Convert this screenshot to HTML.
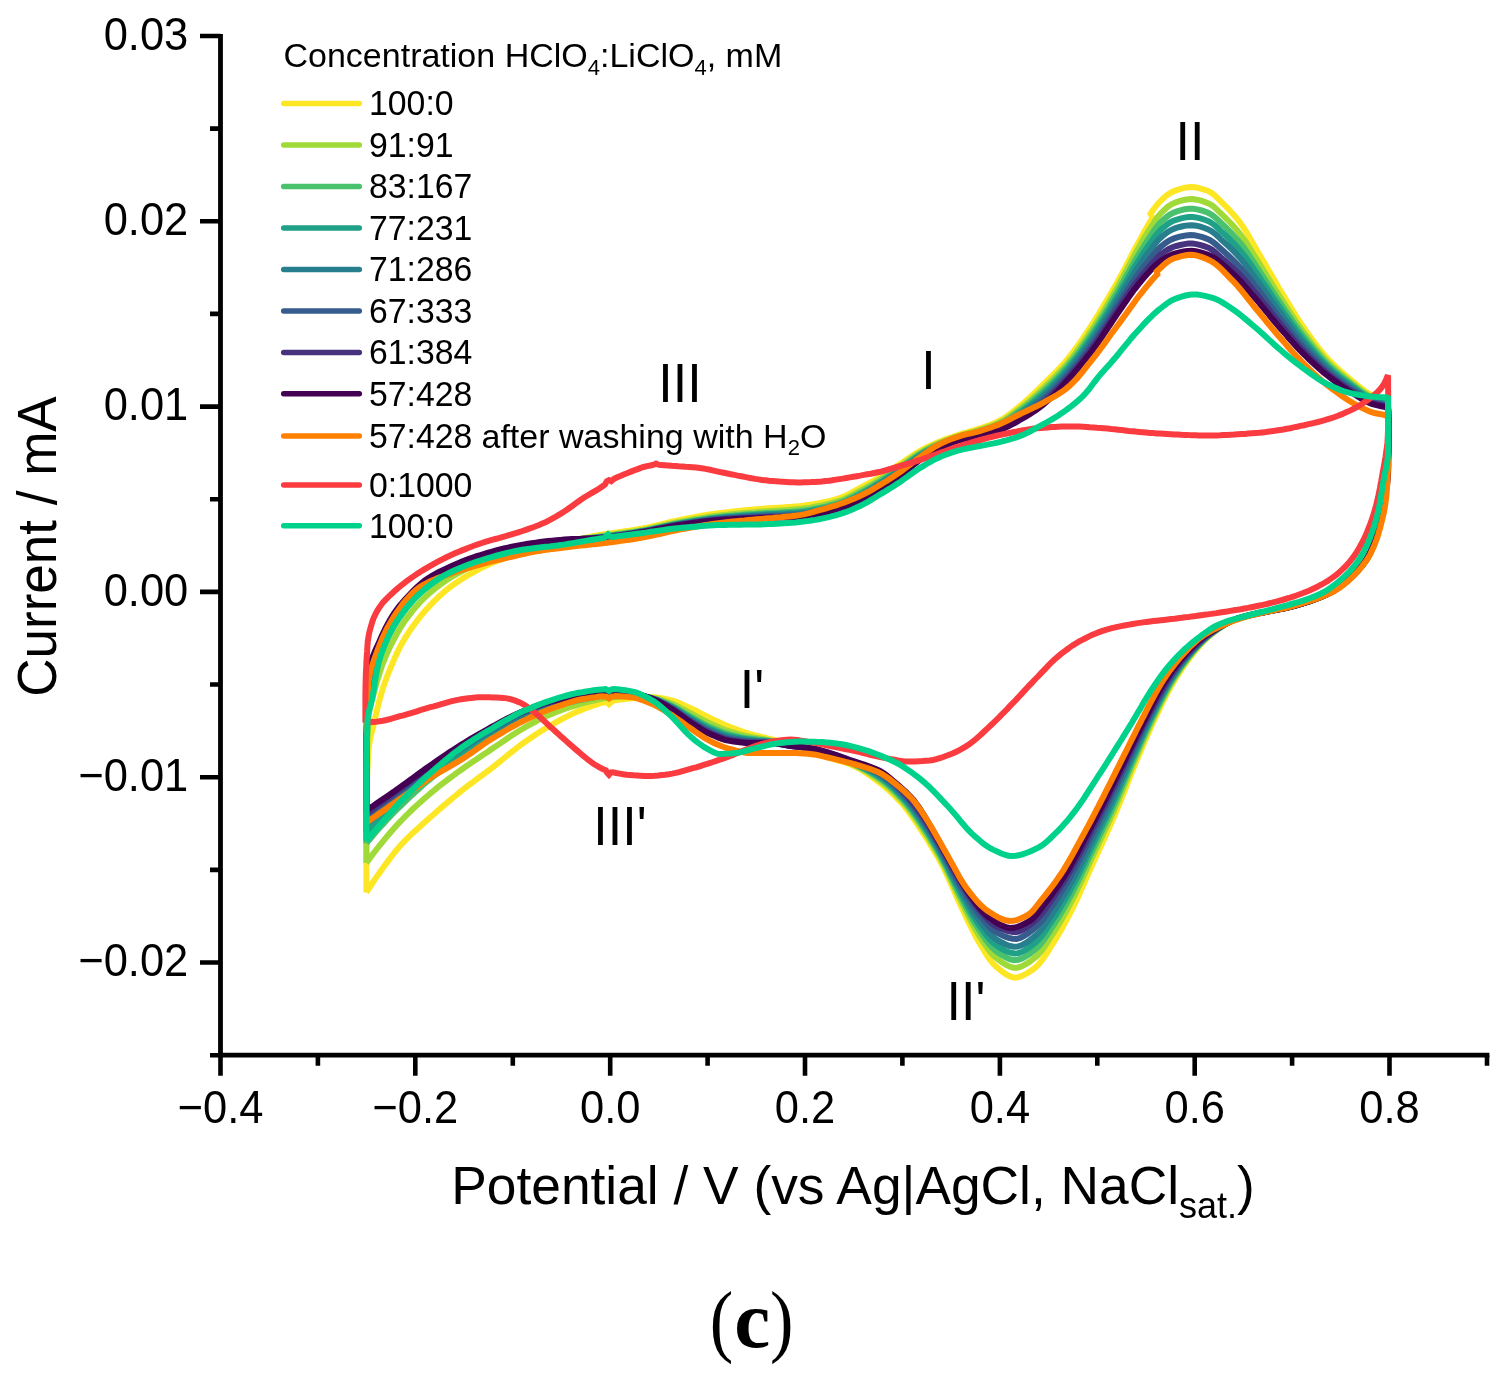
<!DOCTYPE html>
<html lang="en"><head><meta charset="utf-8"><title>Cyclic voltammograms (c)</title>
<style>html,body{margin:0;padding:0;background:#fff}body{width:1500px;height:1380px;overflow:hidden}</style></head>
<body>
<svg width="1500" height="1380" viewBox="0 0 1500 1380" style="display:block">
<rect width="1500" height="1380" fill="#fff"/>
<g fill="none" stroke-width="6.0" stroke-linejoin="miter" stroke-linecap="butt">
<path d="M366.4,892.5 L366.4,888.1 L366.4,883.6 L366.4,879.2 L366.4,874.7 L366.4,870.3 L366.4,865.9 L366.4,861.4 L366.4,857.0 L366.4,852.6 L366.4,848.1 L366.5,843.7 L366.5,839.3 L366.5,834.8 L366.5,830.4 L366.5,825.9 L366.5,821.5 L366.5,817.1 L366.5,812.6 L366.6,808.2 L366.6,803.8 L366.6,799.3 L366.6,794.9 L366.7,790.5 L366.8,786.0 L366.9,781.6 L367.1,777.1 L367.2,772.7 L367.4,768.2 L367.7,763.8 L367.9,759.4 L368.2,755.0 L368.5,750.6 L368.9,746.2 L369.6,741.8 L370.5,737.5 L371.5,733.1 L372.6,728.8 L373.7,724.5 L374.7,720.2 L375.7,715.8 L376.7,711.5 L377.7,707.2 L378.8,702.9 L379.9,698.6 L381.1,694.3 L382.4,690.1 L383.7,685.9 L385.2,681.7 L386.7,677.5 L388.3,673.3 L390.0,669.2 L391.7,665.1 L393.4,661.0 L395.2,657.0 L397.1,652.9 L399.1,648.9 L401.1,645.0 L403.2,641.2 L405.5,637.4 L407.9,633.6 L410.4,629.9 L412.9,626.3 L415.6,622.7 L418.3,619.1 L421.1,615.7 L423.9,612.3 L426.8,609.0 L429.8,605.7 L432.9,602.4 L436.0,599.3 L439.3,596.2 L442.6,593.2 L445.9,590.4 L449.4,587.7 L452.9,585.0 L456.6,582.5 L460.3,580.0 L464.1,577.6 L467.9,575.3 L471.7,573.1 L475.6,571.0 L479.5,568.9 L483.5,566.9 L487.5,565.0 L491.6,563.1 L495.7,561.4 L499.8,559.8 L504.0,558.3 L508.1,557.0 L512.4,555.7 L516.6,554.5 L520.9,553.3 L525.2,552.2 L529.6,551.1 L533.9,550.0 L538.2,548.9 L542.5,547.9 L546.8,546.8 L551.1,545.7 L555.4,544.7 L559.7,543.6 L564.1,542.6 L568.4,541.6 L572.7,540.6 L577.0,539.6 L581.4,538.7 L585.7,537.8 L590.1,536.9 L594.4,536.0 L598.8,535.2 L603.1,534.5 L607.5,533.8 L611.9,533.1 L616.3,532.5 L620.7,531.9 L625.1,531.3 L629.5,530.7 L633.9,530.0 L638.3,529.3 L642.6,528.5 L647.0,527.6 L651.3,526.7 L655.6,525.6 L659.9,524.6 L664.2,523.6 L668.6,522.5 L672.9,521.5 L677.2,520.6 L681.6,519.7 L685.9,518.8 L690.3,518.0 L694.6,517.1 L699.0,516.3 L703.4,515.5 L707.8,514.8 L712.1,514.1 L716.5,513.5 L720.9,512.9 L725.3,512.4 L729.7,511.9 L734.1,511.4 L738.5,510.9 L743.0,510.5 L747.4,510.1 L751.8,509.7 L756.2,509.3 L760.6,508.9 L765.1,508.6 L769.5,508.3 L773.9,508.0 L778.4,507.7 L782.8,507.4 L787.2,507.1 L791.6,506.8 L796.0,506.4 L800.5,506.0 L804.9,505.4 L809.3,504.8 L813.7,504.1 L818.0,503.4 L822.4,502.5 L826.7,501.6 L831.1,500.6 L835.4,499.4 L839.6,498.1 L843.7,496.6 L847.7,494.7 L851.6,492.6 L855.5,490.4 L859.4,488.3 L863.4,486.2 L867.3,484.1 L871.2,482.0 L875.1,479.9 L878.9,477.6 L882.7,475.4 L886.4,473.0 L890.1,470.5 L893.8,468.1 L897.5,465.6 L901.2,463.2 L904.9,460.7 L908.6,458.2 L912.3,455.7 L916.0,453.3 L919.8,451.1 L923.7,449.0 L927.7,447.0 L931.7,445.1 L935.8,443.3 L939.9,441.6 L944.0,439.9 L948.2,438.4 L952.4,437.0 L956.6,435.6 L960.8,434.2 L965.1,433.0 L969.3,431.7 L973.6,430.5 L977.8,429.2 L982.0,427.8 L986.2,426.3 L990.4,424.8 L994.6,423.1 L998.6,421.2 L1002.4,419.2 L1006.1,416.8 L1009.7,414.2 L1013.3,411.5 L1016.8,408.6 L1020.2,405.8 L1023.6,403.0 L1026.9,400.1 L1030.2,397.1 L1033.4,394.0 L1036.6,390.9 L1039.8,387.8 L1043.0,384.7 L1046.2,381.6 L1049.4,378.5 L1052.5,375.4 L1055.7,372.2 L1058.7,369.0 L1061.7,365.8 L1064.7,362.5 L1067.5,359.1 L1070.3,355.7 L1073.0,352.2 L1075.7,348.6 L1078.3,345.0 L1080.9,341.4 L1083.4,337.7 L1085.9,334.0 L1088.3,330.3 L1090.7,326.6 L1093.1,322.9 L1095.5,319.1 L1097.8,315.4 L1100.1,311.6 L1102.4,307.7 L1104.6,303.9 L1106.9,300.1 L1109.2,296.2 L1111.5,292.3 L1113.7,288.4 L1116.0,284.5 L1118.2,280.6 L1120.3,276.7 L1122.5,272.8 L1124.6,268.8 L1126.6,264.8 L1128.7,260.9 L1130.8,256.9 L1132.8,252.9 L1134.9,248.9 L1137.1,245.0 L1139.2,241.1 L1141.4,237.1 L1143.5,233.2 L1145.7,229.3 L1147.9,225.4 L1150.2,221.5 L1152.5,217.7 L1150.6,213.8 L1153.1,210.0 L1155.8,206.3 L1158.7,202.9 L1161.9,199.6 L1165.5,196.3 L1169.3,193.5 L1173.3,191.3 L1177.6,189.8 L1182.0,188.4 L1186.4,187.4 L1190.9,187.0 L1195.3,187.3 L1199.7,188.3 L1204.1,189.6 L1208.1,191.0 L1211.8,193.1 L1215.3,195.9 L1218.6,199.2 L1221.8,202.4 L1224.9,205.5 L1228.1,208.7 L1231.1,211.9 L1234.1,215.3 L1236.9,218.7 L1239.7,222.2 L1242.3,225.7 L1244.7,229.4 L1247.0,233.1 L1249.3,237.0 L1251.5,240.9 L1253.7,244.8 L1255.9,248.6 L1258.1,252.4 L1260.4,256.2 L1262.6,260.1 L1264.9,263.9 L1267.1,267.7 L1269.3,271.6 L1271.6,275.4 L1273.8,279.2 L1276.1,283.1 L1278.3,286.9 L1280.6,290.7 L1282.9,294.5 L1285.2,298.3 L1287.5,302.1 L1289.8,305.9 L1292.1,309.7 L1294.5,313.4 L1296.8,317.2 L1299.2,320.9 L1301.7,324.6 L1304.2,328.3 L1306.7,331.9 L1309.3,335.5 L1311.9,339.1 L1314.6,342.7 L1317.3,346.3 L1320.0,349.7 L1322.8,353.2 L1325.7,356.5 L1328.7,359.7 L1331.8,362.9 L1334.9,366.0 L1338.2,369.0 L1341.5,372.0 L1344.9,374.9 L1348.3,377.8 L1351.7,380.6 L1355.2,383.4 L1358.6,386.2 L1362.2,389.0 L1365.7,391.6 L1369.4,394.0 L1373.5,396.2 L1378.6,397.9 L1383.6,399.6 L1387.2,401.5 L1388.0,403.9 L1388.2,407.2 L1388.3,411.1 L1388.3,415.6 L1388.4,420.4 L1388.4,425.4 L1388.5,430.5 L1388.5,435.4 L1388.5,440.0 L1388.4,444.4 L1388.2,448.9 L1387.8,453.3 L1387.4,457.7 L1386.9,462.1 L1386.4,466.5 L1386.0,471.0 L1385.7,475.4 L1385.4,479.8 L1385.0,484.2 L1384.6,488.7 L1384.2,493.1 L1383.8,497.5 L1383.3,501.9 L1382.7,506.3 L1382.0,510.7 L1381.2,515.1 L1380.4,519.5 L1379.4,523.8 L1378.5,528.1 L1377.4,532.4 L1376.2,536.7 L1374.9,540.9 L1373.3,545.2 L1371.7,549.3 L1369.8,553.3 L1367.9,557.2 L1365.5,560.9 L1362.9,564.5 L1360.0,568.0 L1357.0,571.4 L1354.0,574.5 L1350.8,577.6 L1347.5,580.6 L1344.0,583.5 L1340.4,586.3 L1336.8,588.8 L1333.0,591.1 L1329.2,593.2 L1325.3,595.1 L1321.2,596.8 L1317.1,598.5 L1312.9,600.0 L1308.6,601.5 L1304.4,602.9 L1300.1,604.2 L1295.9,605.4 L1291.6,606.5 L1287.2,607.6 L1282.8,608.5 L1278.4,609.4 L1274.0,610.2 L1269.5,611.1 L1265.1,611.9 L1260.7,612.7 L1256.3,613.6 L1252.0,614.6 L1247.7,615.6 L1243.5,616.7 L1239.4,618.0 L1235.4,619.4 L1231.4,621.2 L1227.5,623.2 L1223.6,625.5 L1219.8,628.0 L1216.1,630.7 L1212.6,633.4 L1209.2,636.2 L1206.0,639.1 L1202.8,642.3 L1199.8,645.6 L1196.9,649.0 L1194.0,652.4 L1191.3,655.9 L1188.6,659.4 L1186.0,663.0 L1183.4,666.6 L1180.9,670.3 L1178.5,674.1 L1176.1,677.8 L1173.9,681.6 L1171.6,685.5 L1169.5,689.3 L1167.4,693.2 L1165.3,697.1 L1163.3,701.1 L1161.3,705.1 L1159.4,709.1 L1157.5,713.1 L1155.6,717.1 L1153.7,721.2 L1151.9,725.2 L1150.1,729.2 L1148.3,733.3 L1146.5,737.3 L1144.7,741.4 L1143.0,745.5 L1141.3,749.6 L1139.5,753.7 L1137.8,757.8 L1136.1,761.9 L1134.4,766.0 L1132.7,770.1 L1131.1,774.2 L1129.4,778.3 L1127.8,782.4 L1126.2,786.6 L1124.6,790.7 L1123.0,794.8 L1121.3,799.0 L1119.7,803.1 L1118.0,807.2 L1116.4,811.3 L1114.7,815.4 L1112.9,819.5 L1111.1,823.5 L1109.3,827.6 L1107.5,831.6 L1105.7,835.7 L1103.8,839.7 L1102.0,843.7 L1100.1,847.8 L1098.3,851.8 L1096.4,855.8 L1094.5,859.9 L1092.7,863.9 L1090.9,867.9 L1089.1,872.0 L1087.3,876.1 L1085.5,880.1 L1083.7,884.2 L1081.9,888.3 L1080.1,892.3 L1078.3,896.4 L1076.4,900.4 L1074.5,904.4 L1072.5,908.3 L1070.5,912.3 L1068.5,916.2 L1066.4,920.2 L1064.3,924.1 L1062.2,928.0 L1060.0,931.8 L1057.7,935.7 L1055.4,939.5 L1053.1,943.2 L1050.7,947.0 L1048.3,950.9 L1045.8,954.8 L1043.2,958.6 L1040.5,962.1 L1037.7,965.4 L1034.6,968.1 L1031.0,970.7 L1027.1,973.3 L1022.9,975.6 L1018.7,977.1 L1014.6,977.6 L1010.6,976.7 L1006.6,974.6 L1002.6,971.9 L998.9,968.9 L995.6,966.0 L992.6,963.0 L989.9,959.6 L987.3,955.9 L984.8,952.0 L982.5,948.1 L980.2,944.3 L977.9,940.5 L975.8,936.6 L973.8,932.7 L971.8,928.7 L969.8,924.7 L967.9,920.7 L966.0,916.7 L964.1,912.6 L962.2,908.6 L960.3,904.6 L958.4,900.6 L956.6,896.5 L954.8,892.5 L953.0,888.4 L951.2,884.3 L949.4,880.3 L947.6,876.2 L945.7,872.2 L943.8,868.2 L941.8,864.3 L939.7,860.4 L937.5,856.5 L935.3,852.7 L933.0,848.9 L930.7,845.1 L928.4,841.3 L926.0,837.5 L923.6,833.8 L921.2,830.1 L918.7,826.4 L916.3,822.7 L913.8,819.0 L911.2,815.3 L908.6,811.7 L905.9,808.2 L903.1,804.9 L900.2,801.6 L897.1,798.4 L893.9,795.2 L890.7,792.1 L887.4,789.1 L884.0,786.2 L880.6,783.4 L877.1,780.8 L873.5,778.1 L869.9,775.4 L866.2,772.9 L862.4,770.4 L858.6,768.2 L854.6,766.2 L850.7,764.5 L846.5,763.0 L842.3,761.7 L838.0,760.5 L833.7,759.2 L829.5,757.8 L825.3,756.2 L821.2,754.5 L817.1,752.8 L813.0,751.1 L808.9,749.6 L804.7,748.2 L800.4,746.9 L796.1,745.7 L791.9,744.5 L787.6,743.4 L783.3,742.3 L779.0,741.2 L774.7,740.1 L770.4,739.1 L766.0,738.0 L761.7,737.0 L757.4,736.0 L753.1,734.9 L748.9,733.7 L744.6,732.3 L740.4,730.9 L736.2,729.4 L732.1,727.8 L728.0,726.2 L723.9,724.4 L719.8,722.6 L715.8,720.8 L711.8,718.9 L707.8,716.9 L703.8,714.9 L699.9,712.9 L696.0,710.8 L692.0,708.9 L687.9,707.1 L683.9,705.2 L679.8,703.3 L675.7,701.7 L671.5,700.4 L667.2,699.4 L662.8,698.5 L658.4,697.7 L654.0,697.2 L649.6,697.0 L645.2,697.1 L640.7,697.5 L636.3,697.9 L631.9,698.3 L627.5,698.7 L623.0,699.2 L618.6,699.7 L614.2,700.3 L611.2,702.1 L609.0,704.2 L606.8,702.1 L605.5,701.9 L601.2,703.0 L597.0,704.3 L592.7,705.7 L588.5,707.2 L584.4,708.8 L580.3,710.4 L576.2,712.1 L572.2,713.9 L568.2,715.9 L564.2,717.9 L560.2,720.0 L556.3,722.1 L552.5,724.3 L548.6,726.5 L544.8,728.7 L541.1,731.1 L537.3,733.5 L533.6,735.9 L529.9,738.4 L526.3,741.0 L522.7,743.5 L519.1,746.1 L515.6,748.8 L512.1,751.6 L508.6,754.4 L505.2,757.2 L501.8,760.0 L498.3,762.8 L494.9,765.6 L491.4,768.3 L487.8,771.0 L484.3,773.7 L480.7,776.3 L477.1,778.9 L473.6,781.6 L470.0,784.2 L466.5,786.9 L463.0,789.6 L459.5,792.4 L456.1,795.2 L452.7,798.0 L449.3,800.9 L445.9,803.7 L442.5,806.6 L439.1,809.5 L435.8,812.4 L432.5,815.4 L429.2,818.3 L425.8,821.3 L422.5,824.2 L419.2,827.2 L415.9,830.2 L412.6,833.2 L409.4,836.3 L406.2,839.4 L403.2,842.6 L400.2,845.8 L397.3,849.1 L394.5,852.6 L391.8,856.0 L389.1,859.6 L386.4,863.2 L383.8,866.8 L381.2,870.4 L378.6,874.0 L376.1,877.6 L373.6,881.3 L371.2,885.0 L368.8,888.7 L366.4,892.5" stroke="#fde725"/>
<path d="M366.4,862.9 L366.4,858.6 L366.4,854.3 L366.4,849.9 L366.4,845.6 L366.4,841.2 L366.4,836.9 L366.4,832.6 L366.4,828.2 L366.4,823.9 L366.5,819.5 L366.5,815.2 L366.5,810.9 L366.5,806.5 L366.5,802.2 L366.5,797.8 L366.5,793.5 L366.5,789.2 L366.6,784.8 L366.6,780.5 L366.6,776.2 L366.6,771.8 L366.7,767.5 L366.7,763.1 L366.8,758.8 L366.9,754.4 L367.0,750.0 L367.2,745.7 L367.3,741.3 L367.5,737.0 L367.7,732.7 L367.9,728.3 L368.1,724.0 L368.4,719.7 L368.7,715.5 L369.3,711.2 L370.2,706.9 L371.2,702.7 L372.4,698.5 L373.6,694.3 L374.7,690.1 L375.8,685.9 L376.9,681.7 L378.2,677.5 L379.5,673.4 L380.8,669.3 L382.2,665.2 L383.8,661.1 L385.4,657.1 L387.2,653.1 L389.0,649.1 L390.8,645.2 L392.8,641.3 L394.8,637.5 L396.9,633.7 L399.1,629.9 L401.4,626.2 L403.7,622.6 L406.2,619.1 L408.8,615.6 L411.5,612.1 L414.2,608.7 L417.1,605.4 L420.0,602.2 L423.0,599.2 L426.1,596.2 L429.4,593.3 L432.7,590.4 L436.1,587.7 L439.6,585.0 L443.1,582.5 L446.6,580.1 L450.3,577.7 L454.0,575.5 L457.8,573.4 L461.6,571.3 L465.5,569.3 L469.5,567.4 L473.4,565.6 L477.3,563.9 L481.3,562.2 L485.4,560.5 L489.4,558.9 L493.5,557.4 L497.6,556.0 L501.8,554.8 L505.9,553.6 L510.1,552.4 L514.3,551.4 L518.5,550.3 L522.8,549.3 L527.0,548.4 L531.3,547.5 L535.5,546.6 L539.8,545.8 L544.0,545.0 L548.3,544.2 L552.6,543.5 L556.8,542.7 L561.1,542.0 L565.4,541.4 L569.7,540.7 L574.0,540.0 L578.3,539.4 L582.6,538.8 L586.9,538.1 L591.2,537.5 L595.5,536.9 L599.8,536.2 L604.1,535.6 L608.4,535.0 L612.7,534.4 L617.0,533.8 L621.3,533.2 L625.6,532.6 L629.9,532.0 L634.2,531.4 L638.4,530.7 L642.7,529.9 L647.0,529.1 L651.2,528.2 L655.4,527.2 L659.7,526.2 L663.9,525.3 L668.1,524.3 L672.4,523.4 L676.6,522.5 L680.9,521.7 L685.2,520.9 L689.4,520.1 L693.7,519.3 L698.0,518.6 L702.3,517.9 L706.5,517.2 L710.8,516.5 L715.1,515.9 L719.4,515.4 L723.7,514.9 L728.1,514.5 L732.4,514.0 L736.7,513.6 L741.0,513.2 L745.3,512.9 L749.7,512.5 L754.0,512.2 L758.3,511.8 L762.7,511.5 L767.0,511.2 L771.3,511.0 L775.7,510.7 L780.0,510.4 L784.3,510.2 L788.7,509.9 L793.0,509.6 L797.3,509.2 L801.6,508.8 L805.9,508.2 L810.2,507.6 L814.5,506.8 L818.8,506.0 L823.0,505.2 L827.3,504.2 L831.5,503.2 L835.7,502.0 L839.8,500.7 L843.8,499.2 L847.7,497.4 L851.6,495.4 L855.5,493.3 L859.3,491.2 L863.2,489.2 L867.0,487.1 L870.7,485.0 L874.5,482.8 L878.2,480.6 L881.9,478.3 L885.6,476.0 L889.2,473.6 L892.8,471.1 L896.4,468.7 L900.0,466.3 L903.6,463.8 L907.1,461.3 L910.7,458.8 L914.2,456.3 L917.9,454.0 L921.6,451.8 L925.4,449.7 L929.3,447.7 L933.2,445.8 L937.1,444.0 L941.1,442.3 L945.1,440.7 L949.2,439.2 L953.3,437.7 L957.4,436.4 L961.6,435.1 L965.8,433.9 L970.0,432.8 L974.2,431.7 L978.3,430.5 L982.4,429.1 L986.6,427.7 L990.7,426.3 L994.8,424.7 L998.7,422.9 L1002.5,421.0 L1006.2,418.8 L1009.8,416.3 L1013.4,413.7 L1016.8,411.1 L1020.3,408.4 L1023.7,405.8 L1027.0,403.0 L1030.3,400.2 L1033.6,397.3 L1036.8,394.4 L1040.0,391.4 L1043.1,388.4 L1046.3,385.4 L1049.4,382.4 L1052.5,379.3 L1055.6,376.2 L1058.6,373.1 L1061.5,369.9 L1064.4,366.7 L1067.3,363.5 L1070.0,360.1 L1072.7,356.8 L1075.4,353.3 L1078.0,349.8 L1080.5,346.3 L1083.1,342.8 L1085.5,339.2 L1088.0,335.6 L1090.4,332.0 L1092.8,328.4 L1095.2,324.8 L1097.5,321.1 L1099.8,317.4 L1102.1,313.7 L1104.3,310.0 L1106.5,306.2 L1108.7,302.5 L1110.8,298.7 L1113.0,294.9 L1115.1,291.2 L1117.3,287.4 L1119.4,283.6 L1121.5,279.8 L1123.5,276.0 L1125.5,272.1 L1127.5,268.3 L1129.6,264.4 L1131.6,260.6 L1133.6,256.8 L1135.7,253.0 L1137.8,249.2 L1140.0,245.4 L1142.1,241.6 L1144.3,237.9 L1146.5,234.1 L1148.8,230.4 L1151.1,226.8 L1153.5,223.1 L1155.9,219.4 L1158.5,215.9 L1161.3,212.8 L1164.5,209.7 L1167.9,206.7 L1171.5,204.3 L1175.3,202.6 L1179.4,201.2 L1183.7,200.0 L1188.0,199.3 L1192.3,199.1 L1196.7,199.7 L1201.0,200.7 L1205.2,202.1 L1209.1,203.6 L1212.6,205.8 L1216.0,208.6 L1219.2,211.8 L1222.4,214.9 L1225.5,217.9 L1228.6,221.0 L1231.6,224.1 L1234.5,227.3 L1237.4,230.6 L1240.1,234.0 L1242.7,237.4 L1245.2,241.0 L1247.5,244.6 L1249.8,248.3 L1252.1,252.0 L1254.4,255.8 L1256.7,259.4 L1259.0,263.1 L1261.3,266.8 L1263.6,270.5 L1265.8,274.2 L1268.1,277.9 L1270.4,281.6 L1272.7,285.3 L1275.0,289.0 L1277.3,292.6 L1279.6,296.3 L1282.0,299.9 L1284.3,303.6 L1286.6,307.3 L1289.0,310.9 L1291.3,314.6 L1293.7,318.2 L1296.1,321.8 L1298.6,325.4 L1301.1,329.0 L1303.6,332.5 L1306.2,335.9 L1308.8,339.4 L1311.4,342.9 L1314.1,346.3 L1316.9,349.7 L1319.7,353.0 L1322.5,356.3 L1325.4,359.5 L1328.4,362.6 L1331.5,365.6 L1334.6,368.6 L1337.9,371.5 L1341.2,374.3 L1344.5,377.1 L1347.9,379.9 L1351.3,382.6 L1354.7,385.2 L1358.2,387.9 L1361.7,390.6 L1365.2,393.1 L1368.9,395.4 L1372.8,397.5 L1377.7,399.1 L1382.8,400.6 L1386.7,402.3 L1388.0,404.5 L1388.1,407.4 L1388.2,411.1 L1388.3,415.3 L1388.4,420.0 L1388.4,424.9 L1388.5,429.9 L1388.5,434.8 L1388.5,439.4 L1388.5,443.8 L1388.3,448.1 L1388.0,452.5 L1387.7,456.8 L1387.3,461.1 L1386.8,465.4 L1386.4,469.8 L1386.0,474.1 L1385.7,478.4 L1385.3,482.8 L1384.9,487.1 L1384.5,491.4 L1384.1,495.7 L1383.6,500.0 L1383.0,504.3 L1382.4,508.6 L1381.6,512.9 L1380.9,517.2 L1380.0,521.5 L1379.1,525.7 L1378.1,529.9 L1377.0,534.1 L1375.8,538.3 L1374.4,542.4 L1372.8,546.6 L1371.1,550.6 L1369.3,554.5 L1367.3,558.2 L1364.9,561.8 L1362.3,565.3 L1359.4,568.7 L1356.5,571.9 L1353.5,575.0 L1350.4,578.0 L1347.1,581.0 L1343.7,583.8 L1340.2,586.5 L1336.6,589.0 L1333.0,591.2 L1329.2,593.2 L1325.4,595.0 L1321.4,596.7 L1317.4,598.4 L1313.2,599.9 L1309.1,601.3 L1304.9,602.7 L1300.7,604.0 L1296.6,605.2 L1292.4,606.3 L1288.2,607.4 L1283.9,608.3 L1279.6,609.2 L1275.2,610.0 L1270.9,610.8 L1266.6,611.6 L1262.3,612.4 L1258.0,613.3 L1253.7,614.2 L1249.5,615.2 L1245.4,616.2 L1241.3,617.4 L1237.3,618.7 L1233.4,620.2 L1229.5,622.1 L1225.6,624.2 L1221.8,626.5 L1218.2,629.0 L1214.6,631.5 L1211.2,634.2 L1207.9,636.9 L1204.7,639.8 L1201.6,642.8 L1198.6,646.1 L1195.7,649.3 L1192.9,652.7 L1190.1,656.0 L1187.5,659.4 L1184.9,662.9 L1182.3,666.4 L1179.9,670.0 L1177.4,673.7 L1175.1,677.3 L1172.8,681.0 L1170.6,684.7 L1168.5,688.5 L1166.4,692.3 L1164.4,696.1 L1162.4,700.0 L1160.4,703.9 L1158.5,707.8 L1156.6,711.7 L1154.7,715.6 L1152.9,719.5 L1151.0,723.5 L1149.2,727.4 L1147.4,731.3 L1145.6,735.3 L1143.9,739.3 L1142.1,743.2 L1140.4,747.2 L1138.7,751.2 L1137.0,755.2 L1135.3,759.2 L1133.6,763.2 L1131.9,767.2 L1130.2,771.2 L1128.5,775.2 L1126.9,779.2 L1125.3,783.2 L1123.6,787.3 L1122.0,791.3 L1120.3,795.3 L1118.7,799.3 L1117.0,803.3 L1115.3,807.3 L1113.6,811.3 L1111.8,815.2 L1110.0,819.2 L1108.2,823.1 L1106.4,827.1 L1104.5,831.0 L1102.7,834.9 L1100.9,838.9 L1099.0,842.8 L1097.2,846.7 L1095.3,850.7 L1093.5,854.6 L1091.6,858.5 L1089.8,862.5 L1088.0,866.4 L1086.3,870.4 L1084.5,874.3 L1082.7,878.3 L1080.9,882.2 L1079.0,886.2 L1077.2,890.1 L1075.3,894.0 L1073.3,897.9 L1071.3,901.7 L1069.3,905.5 L1067.3,909.4 L1065.2,913.2 L1063.0,917.0 L1060.9,920.8 L1058.7,924.5 L1056.4,928.2 L1054.1,931.9 L1051.7,935.5 L1049.4,939.2 L1046.9,943.0 L1044.5,946.8 L1041.9,950.4 L1039.1,953.7 L1036.2,956.7 L1033.0,959.2 L1029.4,961.9 L1025.4,964.4 L1021.4,966.5 L1017.3,967.7 L1013.4,967.7 L1009.4,966.5 L1005.3,964.5 L1001.4,961.9 L997.8,959.2 L994.6,956.5 L991.6,953.5 L988.9,950.2 L986.3,946.5 L983.8,942.8 L981.4,939.1 L979.1,935.4 L976.8,931.7 L974.7,928.0 L972.6,924.2 L970.6,920.3 L968.6,916.4 L966.7,912.5 L964.8,908.6 L962.8,904.7 L960.9,900.8 L959.0,896.9 L957.1,893.0 L955.2,889.1 L953.4,885.1 L951.6,881.2 L949.8,877.2 L947.9,873.3 L946.1,869.4 L944.1,865.5 L942.2,861.7 L940.1,857.9 L938.0,854.1 L935.9,850.3 L933.7,846.5 L931.4,842.8 L929.2,839.1 L926.8,835.4 L924.5,831.8 L922.1,828.1 L919.7,824.5 L917.3,820.9 L914.8,817.3 L912.3,813.7 L909.7,810.2 L907.1,806.8 L904.3,803.5 L901.5,800.3 L898.5,797.1 L895.5,794.0 L892.3,790.9 L889.1,787.9 L885.8,785.1 L882.4,782.4 L879.0,779.8 L875.5,777.3 L871.9,774.9 L868.2,772.5 L864.4,770.3 L860.6,768.1 L856.7,766.2 L852.8,764.4 L848.8,762.8 L844.7,761.4 L840.6,760.1 L836.4,758.8 L832.2,757.5 L828.1,756.1 L824.1,754.6 L820.0,753.0 L816.0,751.5 L811.9,750.0 L807.7,748.8 L803.5,747.7 L799.3,746.7 L795.1,745.7 L790.8,744.7 L786.6,743.8 L782.4,742.8 L778.1,741.8 L773.9,740.9 L769.6,740.1 L765.4,739.4 L761.1,738.7 L756.8,738.0 L752.5,737.3 L748.3,736.4 L744.0,735.5 L739.8,734.4 L735.6,733.2 L731.4,732.0 L727.3,730.7 L723.3,729.2 L719.2,727.5 L715.2,725.8 L711.3,724.0 L707.4,722.2 L703.5,720.2 L699.7,718.2 L695.8,716.1 L692.0,714.0 L688.2,712.0 L684.3,710.0 L680.5,707.9 L676.6,705.9 L672.7,704.0 L668.7,702.5 L664.6,701.0 L660.4,699.6 L656.2,698.5 L652.0,697.6 L647.7,697.2 L643.4,696.8 L639.0,696.5 L634.7,696.4 L630.3,696.3 L626.0,696.3 L621.7,696.6 L617.3,696.9 L613.0,697.2 L608.7,697.6 L604.4,698.2 L600.1,699.0 L595.9,700.0 L591.7,701.0 L587.4,702.1 L583.2,703.2 L579.1,704.3 L574.9,705.5 L570.7,706.8 L566.6,708.2 L562.5,709.7 L558.4,711.2 L554.4,712.7 L550.4,714.4 L546.4,716.1 L542.5,718.0 L538.6,719.9 L534.8,722.0 L530.9,724.1 L527.1,726.2 L523.4,728.3 L519.7,730.5 L516.0,732.8 L512.3,735.1 L508.7,737.5 L505.1,740.0 L501.5,742.4 L497.9,744.9 L494.3,747.3 L490.7,749.8 L487.1,752.2 L483.5,754.6 L479.9,757.0 L476.3,759.4 L472.7,761.8 L469.1,764.2 L465.5,766.7 L462.0,769.2 L458.4,771.7 L454.9,774.3 L451.4,776.9 L447.9,779.5 L444.5,782.1 L441.1,784.7 L437.6,787.4 L434.3,790.2 L431.0,792.9 L427.7,795.7 L424.4,798.6 L421.1,801.5 L417.9,804.4 L414.7,807.3 L411.5,810.3 L408.4,813.3 L405.3,816.4 L402.3,819.5 L399.3,822.6 L396.3,825.7 L393.4,829.0 L390.6,832.3 L387.7,835.6 L385.0,838.9 L382.2,842.3 L379.5,845.6 L376.8,849.0 L374.1,852.5 L371.5,855.9 L368.9,859.4 L366.4,862.9" stroke="#a0da39"/>
<path d="M366.4,843.2 L366.4,839.0 L366.4,834.7 L366.4,830.4 L366.4,826.1 L366.4,821.9 L366.4,817.6 L366.4,813.3 L366.4,809.1 L366.4,804.8 L366.5,800.5 L366.5,796.2 L366.5,792.0 L366.5,787.7 L366.5,783.4 L366.5,779.2 L366.5,774.9 L366.6,770.6 L366.6,766.3 L366.6,762.1 L366.6,757.8 L366.7,753.5 L366.7,749.2 L366.8,744.9 L366.8,740.6 L366.9,736.4 L367.0,732.1 L367.2,727.8 L367.3,723.5 L367.5,719.2 L367.6,715.0 L367.8,710.7 L368.0,706.5 L368.2,702.2 L368.5,698.0 L368.9,693.8 L369.7,689.6 L370.7,685.5 L371.9,681.3 L373.1,677.2 L374.3,673.1 L375.5,669.0 L376.8,664.9 L378.1,660.8 L379.5,656.8 L381.0,652.8 L382.6,648.8 L384.3,644.9 L386.1,641.0 L388.0,637.2 L390.0,633.4 L392.1,629.7 L394.2,626.0 L396.5,622.3 L398.8,618.7 L401.3,615.2 L403.8,611.8 L406.4,608.4 L409.1,605.1 L411.9,601.8 L414.8,598.6 L417.7,595.5 L420.8,592.6 L424.0,589.8 L427.2,587.1 L430.6,584.5 L434.2,582.0 L437.7,579.5 L441.4,577.2 L445.0,575.0 L448.7,573.0 L452.5,571.0 L456.3,569.1 L460.2,567.2 L464.1,565.5 L468.0,563.8 L472.0,562.2 L476.0,560.6 L480.0,559.1 L484.0,557.7 L488.0,556.3 L492.1,554.9 L496.2,553.7 L500.3,552.5 L504.4,551.4 L508.6,550.4 L512.7,549.4 L516.9,548.5 L521.1,547.6 L525.3,546.7 L529.5,545.9 L533.7,545.1 L537.9,544.4 L542.1,543.8 L546.3,543.1 L550.6,542.6 L554.8,542.0 L559.0,541.5 L563.3,541.0 L567.5,540.6 L571.8,540.1 L576.0,539.7 L580.3,539.2 L584.5,538.7 L588.8,538.3 L593.0,537.8 L597.3,537.3 L601.5,536.7 L605.7,536.2 L610.0,535.6 L614.2,535.1 L618.5,534.5 L622.7,533.9 L626.9,533.3 L631.1,532.7 L635.4,532.0 L639.6,531.3 L643.8,530.6 L648.0,529.8 L652.1,528.9 L656.3,528.0 L660.5,527.1 L664.7,526.1 L668.8,525.2 L673.0,524.3 L677.2,523.5 L681.4,522.7 L685.6,522.0 L689.8,521.3 L694.1,520.6 L698.3,519.9 L702.5,519.2 L706.7,518.6 L711.0,518.0 L715.2,517.4 L719.4,516.9 L723.7,516.5 L727.9,516.1 L732.2,515.7 L736.4,515.3 L740.7,515.0 L745.0,514.6 L749.2,514.3 L753.5,514.0 L757.7,513.7 L762.0,513.4 L766.3,513.1 L770.5,512.9 L774.8,512.7 L779.1,512.5 L783.4,512.2 L787.6,512.0 L791.9,511.7 L796.1,511.4 L800.4,511.0 L804.6,510.5 L808.8,509.9 L813.1,509.1 L817.3,508.3 L821.4,507.5 L825.6,506.6 L829.8,505.5 L833.9,504.4 L838.0,503.2 L842.0,501.8 L845.9,500.2 L849.8,498.3 L853.6,496.4 L857.4,494.4 L861.2,492.4 L865.0,490.3 L868.7,488.2 L872.4,486.0 L876.0,483.8 L879.7,481.6 L883.3,479.3 L886.8,477.0 L890.4,474.6 L893.9,472.2 L897.5,469.8 L901.0,467.4 L904.5,464.9 L907.9,462.4 L911.4,459.8 L914.9,457.4 L918.4,455.0 L922.1,452.8 L925.8,450.7 L929.6,448.7 L933.4,446.8 L937.3,444.9 L941.2,443.2 L945.1,441.6 L949.1,440.1 L953.1,438.6 L957.2,437.3 L961.3,436.0 L965.4,434.9 L969.5,433.8 L973.7,432.8 L977.8,431.7 L981.9,430.5 L986.0,429.2 L990.1,427.8 L994.1,426.3 L998.0,424.6 L1001.8,422.8 L1005.5,420.8 L1009.1,418.5 L1012.7,416.0 L1016.2,413.5 L1019.7,411.0 L1023.1,408.5 L1026.4,405.9 L1029.8,403.2 L1033.1,400.4 L1036.3,397.6 L1039.5,394.8 L1042.6,391.9 L1045.8,389.0 L1048.9,386.0 L1051.9,383.0 L1054.9,380.0 L1057.9,376.9 L1060.9,373.8 L1063.7,370.6 L1066.6,367.5 L1069.3,364.2 L1072.0,360.9 L1074.7,357.6 L1077.3,354.2 L1079.9,350.8 L1082.4,347.3 L1084.9,343.8 L1087.4,340.3 L1089.8,336.8 L1092.2,333.3 L1094.6,329.7 L1096.9,326.2 L1099.2,322.6 L1101.4,318.9 L1103.7,315.3 L1105.9,311.6 L1108.1,308.0 L1110.3,304.3 L1112.4,300.6 L1114.6,296.9 L1116.8,293.2 L1118.9,289.5 L1121.0,285.8 L1123.1,282.1 L1125.1,278.3 L1127.2,274.6 L1129.3,270.9 L1131.4,267.1 L1133.5,263.4 L1135.6,259.7 L1137.8,256.0 L1140.0,252.4 L1142.2,248.7 L1144.5,245.1 L1146.8,241.5 L1149.1,237.9 L1151.5,234.4 L1153.9,230.8 L1156.4,227.3 L1159.1,224.0 L1162.1,221.0 L1165.3,218.0 L1168.8,215.3 L1172.4,213.1 L1176.2,211.6 L1180.3,210.4 L1184.6,209.3 L1188.9,208.7 L1193.1,208.7 L1197.4,209.4 L1201.7,210.5 L1205.7,211.8 L1209.5,213.4 L1213.0,215.6 L1216.3,218.4 L1219.5,221.5 L1222.7,224.5 L1225.8,227.4 L1228.8,230.4 L1231.8,233.5 L1234.7,236.7 L1237.6,239.9 L1240.3,243.1 L1242.9,246.4 L1245.5,249.9 L1247.9,253.4 L1250.2,257.0 L1252.5,260.6 L1254.9,264.2 L1257.2,267.8 L1259.6,271.3 L1261.9,274.9 L1264.2,278.5 L1266.5,282.1 L1268.9,285.7 L1271.2,289.3 L1273.5,292.9 L1275.8,296.4 L1278.2,300.0 L1280.6,303.5 L1283.0,307.1 L1285.4,310.6 L1287.8,314.2 L1290.2,317.7 L1292.6,321.3 L1295.0,324.8 L1297.5,328.2 L1300.0,331.7 L1302.6,335.1 L1305.2,338.5 L1307.8,341.8 L1310.5,345.2 L1313.2,348.5 L1316.0,351.8 L1318.8,355.0 L1321.6,358.2 L1324.6,361.3 L1327.5,364.3 L1330.6,367.3 L1333.7,370.1 L1337.0,372.9 L1340.3,375.7 L1343.6,378.4 L1347.0,381.0 L1350.4,383.6 L1353.8,386.2 L1357.2,388.8 L1360.7,391.4 L1364.2,393.8 L1367.8,396.1 L1371.5,398.2 L1376.1,399.8 L1381.3,401.3 L1385.6,402.8 L1387.9,404.6 L1388.1,407.2 L1388.2,410.5 L1388.3,414.5 L1388.4,419.0 L1388.4,423.7 L1388.5,428.7 L1388.5,433.6 L1388.5,438.3 L1388.5,442.7 L1388.4,446.9 L1388.2,451.2 L1387.9,455.5 L1387.6,459.7 L1387.2,464.0 L1386.8,468.3 L1386.4,472.5 L1386.0,476.8 L1385.7,481.0 L1385.3,485.3 L1384.8,489.5 L1384.4,493.8 L1383.9,498.0 L1383.3,502.3 L1382.7,506.5 L1382.0,510.7 L1381.3,514.9 L1380.5,519.2 L1379.6,523.4 L1378.7,527.5 L1377.7,531.6 L1376.6,535.7 L1375.3,539.9 L1373.8,543.9 L1372.3,548.0 L1370.5,551.9 L1368.7,555.6 L1366.6,559.3 L1364.2,562.8 L1361.5,566.2 L1358.7,569.5 L1355.8,572.7 L1352.8,575.7 L1349.7,578.6 L1346.5,581.5 L1343.1,584.3 L1339.6,586.9 L1336.1,589.3 L1332.5,591.5 L1328.8,593.4 L1325.0,595.2 L1321.1,596.9 L1317.1,598.5 L1313.0,600.0 L1308.9,601.4 L1304.8,602.7 L1300.7,604.0 L1296.6,605.2 L1292.5,606.3 L1288.4,607.3 L1284.1,608.3 L1279.9,609.1 L1275.7,609.9 L1271.4,610.7 L1267.1,611.5 L1262.9,612.3 L1258.7,613.2 L1254.5,614.1 L1250.3,615.0 L1246.2,616.0 L1242.2,617.2 L1238.2,618.4 L1234.3,619.8 L1230.5,621.5 L1226.6,623.5 L1222.9,625.7 L1219.2,628.0 L1215.6,630.5 L1212.2,633.0 L1208.9,635.6 L1205.7,638.4 L1202.5,641.3 L1199.5,644.4 L1196.6,647.5 L1193.7,650.8 L1190.9,654.0 L1188.2,657.3 L1185.6,660.6 L1183.0,664.1 L1180.5,667.6 L1178.1,671.1 L1175.7,674.7 L1173.4,678.3 L1171.2,681.9 L1169.0,685.5 L1166.9,689.2 L1164.9,693.0 L1162.9,696.8 L1160.9,700.6 L1159.0,704.4 L1157.0,708.2 L1155.2,712.1 L1153.3,715.9 L1151.4,719.8 L1149.6,723.6 L1147.8,727.5 L1146.0,731.4 L1144.2,735.2 L1142.5,739.1 L1140.7,743.1 L1139.0,747.0 L1137.3,750.9 L1135.6,754.8 L1133.8,758.7 L1132.1,762.6 L1130.4,766.5 L1128.8,770.5 L1127.1,774.4 L1125.4,778.3 L1123.8,782.3 L1122.1,786.2 L1120.5,790.2 L1118.8,794.1 L1117.1,798.0 L1115.4,801.9 L1113.6,805.8 L1111.9,809.7 L1110.1,813.6 L1108.3,817.5 L1106.5,821.3 L1104.6,825.2 L1102.8,829.0 L1101.0,832.9 L1099.1,836.8 L1097.3,840.6 L1095.4,844.5 L1093.6,848.3 L1091.8,852.2 L1089.9,856.0 L1088.1,859.9 L1086.3,863.8 L1084.5,867.7 L1082.7,871.6 L1080.9,875.4 L1079.1,879.3 L1077.2,883.1 L1075.3,886.9 L1073.4,890.7 L1071.4,894.5 L1069.3,898.3 L1067.3,902.0 L1065.2,905.8 L1063.1,909.5 L1060.9,913.2 L1058.7,916.9 L1056.5,920.5 L1054.2,924.1 L1051.8,927.6 L1049.5,931.3 L1047.1,935.0 L1044.6,938.7 L1042.1,942.2 L1039.4,945.5 L1036.5,948.4 L1033.4,951.0 L1029.9,953.7 L1026.1,956.3 L1022.1,958.4 L1018.1,959.8 L1014.2,960.2 L1010.2,959.3 L1006.2,957.5 L1002.2,955.3 L998.5,952.7 L995.2,950.3 L992.1,947.5 L989.3,944.3 L986.6,940.9 L984.1,937.3 L981.6,933.6 L979.2,930.1 L977.0,926.5 L974.8,922.9 L972.6,919.2 L970.6,915.4 L968.5,911.6 L966.5,907.8 L964.6,904.0 L962.6,900.2 L960.6,896.4 L958.7,892.6 L956.8,888.8 L954.9,885.0 L953.1,881.1 L951.2,877.2 L949.4,873.4 L947.5,869.5 L945.6,865.7 L943.7,861.9 L941.7,858.1 L939.7,854.4 L937.6,850.7 L935.4,846.9 L933.3,843.2 L931.1,839.6 L928.9,835.9 L926.6,832.3 L924.3,828.7 L921.9,825.1 L919.6,821.6 L917.1,818.0 L914.7,814.5 L912.2,811.0 L909.6,807.6 L906.9,804.3 L904.2,801.1 L901.3,797.9 L898.4,794.8 L895.4,791.7 L892.3,788.7 L889.1,785.8 L885.8,783.0 L882.5,780.4 L879.0,778.0 L875.5,775.6 L871.9,773.4 L868.2,771.2 L864.4,769.1 L860.5,767.2 L856.7,765.3 L852.8,763.6 L848.8,762.1 L844.8,760.6 L840.7,759.3 L836.6,758.0 L832.6,756.7 L828.5,755.4 L824.5,753.9 L820.5,752.5 L816.4,751.0 L812.3,749.8 L808.2,748.7 L804.1,747.7 L799.9,746.9 L795.7,746.1 L791.5,745.2 L787.3,744.4 L783.1,743.5 L778.9,742.6 L774.7,741.8 L770.5,741.1 L766.3,740.5 L762.1,740.0 L757.8,739.6 L753.6,739.1 L749.3,738.5 L745.1,737.9 L740.9,737.1 L736.7,736.2 L732.5,735.2 L728.4,734.1 L724.4,732.8 L720.4,731.4 L716.4,729.8 L712.4,728.1 L708.5,726.4 L704.7,724.5 L701.0,722.4 L697.2,720.3 L693.5,718.2 L689.8,716.1 L686.1,714.0 L682.4,711.7 L678.7,709.5 L675.0,707.4 L671.2,705.5 L667.4,703.7 L663.4,702.0 L659.4,700.4 L655.3,699.0 L651.3,697.9 L647.1,697.1 L642.9,696.2 L638.7,695.6 L634.4,695.1 L630.1,694.9 L625.9,694.9 L621.6,695.0 L617.3,695.1 L613.0,695.2 L608.8,695.4 L604.5,695.8 L600.3,696.3 L596.1,697.0 L591.9,697.8 L587.7,698.7 L583.5,699.5 L579.3,700.3 L575.1,701.2 L570.9,702.1 L566.7,703.0 L562.5,704.1 L558.4,705.2 L554.3,706.4 L550.3,707.7 L546.3,709.1 L542.3,710.7 L538.4,712.3 L534.4,714.1 L530.6,715.9 L526.7,717.8 L522.9,719.6 L519.1,721.6 L515.3,723.6 L511.6,725.7 L507.9,727.8 L504.2,730.0 L500.6,732.2 L496.9,734.5 L493.2,736.7 L489.6,738.9 L485.9,741.1 L482.3,743.3 L478.6,745.6 L475.0,747.8 L471.4,750.1 L467.8,752.4 L464.2,754.8 L460.7,757.1 L457.1,759.5 L453.6,761.9 L450.1,764.3 L446.5,766.8 L443.1,769.3 L439.6,771.8 L436.2,774.3 L432.8,776.9 L429.5,779.6 L426.2,782.3 L423.0,785.1 L419.8,787.9 L416.6,790.8 L413.4,793.7 L410.3,796.6 L407.2,799.5 L404.1,802.5 L401.0,805.5 L398.0,808.5 L395.0,811.5 L392.0,814.5 L389.0,817.6 L386.1,820.7 L383.2,823.9 L380.3,827.0 L377.4,830.2 L374.6,833.4 L371.9,836.7 L369.1,839.9 L366.4,843.2" stroke="#4ac16d"/>
<path d="M366.4,832.6 L366.4,828.3 L366.4,824.1 L366.4,819.9 L366.4,815.7 L366.4,811.5 L366.4,807.2 L366.4,803.0 L366.4,798.8 L366.5,794.6 L366.5,790.4 L366.5,786.1 L366.5,781.9 L366.5,777.7 L366.5,773.5 L366.5,769.2 L366.6,765.0 L366.6,760.8 L366.6,756.6 L366.6,752.4 L366.7,748.1 L366.7,743.9 L366.8,739.7 L366.8,735.4 L366.9,731.2 L367.0,726.9 L367.2,722.7 L367.3,718.5 L367.4,714.2 L367.6,710.0 L367.8,705.8 L368.0,701.6 L368.2,697.4 L368.4,693.3 L368.7,689.1 L369.3,685.0 L370.3,680.9 L371.4,676.7 L372.6,672.7 L373.9,668.6 L375.1,664.5 L376.3,660.5 L377.7,656.5 L379.2,652.5 L380.7,648.6 L382.3,644.7 L384.0,640.9 L385.8,637.0 L387.7,633.3 L389.7,629.6 L391.8,625.9 L394.0,622.3 L396.3,618.7 L398.7,615.2 L401.2,611.8 L403.7,608.4 L406.3,605.1 L409.0,601.9 L411.8,598.6 L414.7,595.5 L417.7,592.5 L420.8,589.7 L424.0,587.0 L427.3,584.4 L430.7,582.0 L434.2,579.6 L437.8,577.3 L441.5,575.1 L445.2,573.0 L448.9,571.0 L452.6,569.2 L456.4,567.4 L460.3,565.6 L464.2,564.0 L468.1,562.4 L472.1,560.9 L476.0,559.4 L480.0,558.0 L484.0,556.6 L488.0,555.2 L492.1,554.0 L496.1,552.8 L500.2,551.7 L504.3,550.7 L508.4,549.7 L512.5,548.7 L516.6,547.8 L520.7,546.9 L524.9,546.1 L529.0,545.3 L533.2,544.6 L537.4,543.9 L541.5,543.3 L545.7,542.8 L549.9,542.2 L554.1,541.8 L558.3,541.3 L562.5,540.9 L566.7,540.5 L570.9,540.1 L575.1,539.7 L579.3,539.3 L583.5,538.9 L587.7,538.5 L591.9,538.1 L596.1,537.6 L600.3,537.2 L604.5,536.6 L608.7,536.1 L612.9,535.6 L617.1,535.0 L621.3,534.5 L625.4,533.9 L629.6,533.2 L633.8,532.6 L638.0,531.9 L642.1,531.2 L646.3,530.5 L650.4,529.7 L654.5,528.8 L658.7,527.9 L662.8,527.0 L666.9,526.1 L671.0,525.2 L675.2,524.4 L679.3,523.6 L683.5,522.9 L687.7,522.2 L691.8,521.5 L696.0,520.8 L700.2,520.2 L704.3,519.6 L708.5,519.0 L712.7,518.4 L716.9,518.0 L721.1,517.5 L725.3,517.1 L729.5,516.7 L733.7,516.4 L737.9,516.1 L742.1,515.8 L746.3,515.5 L750.6,515.2 L754.8,514.9 L759.0,514.6 L763.2,514.4 L767.4,514.1 L771.6,513.9 L775.9,513.8 L780.1,513.6 L784.3,513.4 L788.5,513.1 L792.7,512.9 L796.9,512.6 L801.1,512.2 L805.3,511.7 L809.5,511.1 L813.6,510.3 L817.8,509.5 L821.9,508.7 L826.1,507.8 L830.2,506.8 L834.3,505.7 L838.3,504.4 L842.2,503.1 L846.1,501.5 L850.0,499.7 L853.8,497.9 L857.6,495.9 L861.3,494.0 L865.0,491.9 L868.7,489.8 L872.3,487.7 L875.9,485.4 L879.5,483.2 L883.1,481.0 L886.6,478.7 L890.1,476.4 L893.6,474.0 L897.1,471.6 L900.6,469.2 L904.0,466.8 L907.4,464.2 L910.8,461.6 L914.2,459.1 L917.6,456.7 L921.2,454.5 L924.8,452.4 L928.5,450.3 L932.2,448.3 L936.0,446.4 L939.9,444.6 L943.7,443.0 L947.6,441.4 L951.6,439.9 L955.6,438.5 L959.6,437.2 L963.7,436.1 L967.8,435.1 L971.9,434.1 L976.0,433.1 L980.1,432.0 L984.1,430.8 L988.2,429.5 L992.2,428.1 L996.1,426.6 L1000.0,425.0 L1003.7,423.1 L1007.4,421.0 L1011.0,418.8 L1014.5,416.4 L1018.0,414.0 L1021.4,411.6 L1024.9,409.1 L1028.2,406.5 L1031.6,403.9 L1034.8,401.2 L1038.1,398.5 L1041.2,395.7 L1044.3,392.9 L1047.4,390.0 L1050.5,387.1 L1053.5,384.1 L1056.5,381.1 L1059.4,378.1 L1062.3,375.0 L1065.1,371.8 L1067.9,368.7 L1070.6,365.5 L1073.3,362.2 L1075.9,358.9 L1078.5,355.6 L1081.1,352.2 L1083.6,348.8 L1086.1,345.4 L1088.5,341.9 L1091.0,338.5 L1093.3,335.0 L1095.7,331.5 L1098.0,328.0 L1100.3,324.4 L1102.5,320.9 L1104.8,317.3 L1107.0,313.7 L1109.2,310.1 L1111.3,306.4 L1113.5,302.8 L1115.7,299.2 L1117.9,295.6 L1120.0,292.0 L1122.2,288.3 L1124.3,284.6 L1126.4,281.0 L1128.5,277.3 L1130.6,273.7 L1132.7,270.0 L1134.9,266.4 L1137.1,262.8 L1139.4,259.3 L1141.7,255.7 L1144.0,252.2 L1146.4,248.7 L1148.8,245.3 L1151.3,241.8 L1153.7,238.3 L1156.3,234.9 L1159.0,231.7 L1162.0,228.8 L1165.3,226.0 L1168.7,223.3 L1172.4,221.2 L1176.2,219.8 L1180.2,218.6 L1184.4,217.6 L1188.7,217.0 L1192.8,217.0 L1197.1,217.6 L1201.3,218.7 L1205.3,220.0 L1209.1,221.5 L1212.6,223.6 L1215.9,226.3 L1219.1,229.3 L1222.2,232.3 L1225.3,235.1 L1228.4,238.0 L1231.4,241.0 L1234.3,244.1 L1237.2,247.2 L1240.0,250.4 L1242.6,253.6 L1245.2,256.9 L1247.7,260.4 L1250.1,263.8 L1252.5,267.3 L1254.9,270.8 L1257.3,274.3 L1259.7,277.8 L1262.0,281.3 L1264.4,284.8 L1266.8,288.3 L1269.1,291.8 L1271.5,295.3 L1273.8,298.8 L1276.2,302.2 L1278.6,305.7 L1281.1,309.2 L1283.5,312.6 L1285.9,316.1 L1288.4,319.5 L1290.8,323.0 L1293.3,326.4 L1295.8,329.8 L1298.3,333.2 L1300.9,336.5 L1303.5,339.8 L1306.2,343.1 L1308.9,346.3 L1311.6,349.6 L1314.4,352.8 L1317.2,355.9 L1320.1,359.0 L1323.0,362.1 L1326.0,365.1 L1329.0,367.9 L1332.1,370.8 L1335.3,373.5 L1338.6,376.2 L1341.9,378.9 L1345.3,381.4 L1348.7,384.0 L1352.1,386.5 L1355.5,389.0 L1358.9,391.5 L1362.4,393.9 L1365.9,396.2 L1369.6,398.3 L1373.6,400.1 L1378.6,401.5 L1383.5,402.9 L1387.1,404.4 L1388.0,406.5 L1388.1,409.3 L1388.2,412.9 L1388.3,417.1 L1388.4,421.6 L1388.4,426.5 L1388.5,431.4 L1388.5,436.2 L1388.5,440.7 L1388.5,445.0 L1388.4,449.2 L1388.2,453.4 L1387.9,457.6 L1387.5,461.8 L1387.2,466.1 L1386.8,470.3 L1386.4,474.5 L1386.1,478.7 L1385.7,482.9 L1385.2,487.1 L1384.8,491.3 L1384.3,495.5 L1383.7,499.7 L1383.2,503.8 L1382.5,508.0 L1381.8,512.2 L1381.1,516.4 L1380.3,520.5 L1379.4,524.7 L1378.4,528.8 L1377.4,532.8 L1376.3,536.9 L1374.9,540.9 L1373.5,545.0 L1371.9,548.9 L1370.1,552.7 L1368.3,556.4 L1366.1,560.0 L1363.7,563.5 L1361.0,566.8 L1358.2,570.1 L1355.3,573.2 L1352.4,576.1 L1349.3,579.0 L1346.1,581.8 L1342.7,584.6 L1339.3,587.1 L1335.8,589.5 L1332.2,591.6 L1328.6,593.5 L1324.8,595.3 L1321.0,596.9 L1317.0,598.5 L1313.0,600.0 L1308.9,601.4 L1304.9,602.7 L1300.8,603.9 L1296.8,605.1 L1292.7,606.3 L1288.6,607.3 L1284.5,608.2 L1280.3,609.1 L1276.1,609.9 L1271.9,610.7 L1267.7,611.5 L1263.5,612.2 L1259.3,613.1 L1255.1,613.9 L1251.0,614.9 L1247.0,615.9 L1243.0,617.0 L1239.0,618.2 L1235.2,619.5 L1231.3,621.1 L1227.5,623.0 L1223.8,625.1 L1220.1,627.3 L1216.5,629.7 L1213.1,632.1 L1209.7,634.6 L1206.5,637.2 L1203.3,640.0 L1200.3,643.0 L1197.3,646.1 L1194.4,649.2 L1191.6,652.3 L1188.9,655.5 L1186.2,658.8 L1183.6,662.1 L1181.1,665.5 L1178.6,669.0 L1176.2,672.5 L1173.8,676.0 L1171.6,679.5 L1169.4,683.1 L1167.3,686.7 L1165.2,690.4 L1163.2,694.1 L1161.2,697.9 L1159.3,701.6 L1157.3,705.4 L1155.4,709.2 L1153.6,713.0 L1151.7,716.7 L1149.8,720.5 L1148.0,724.3 L1146.2,728.2 L1144.4,732.0 L1142.7,735.8 L1140.9,739.7 L1139.2,743.5 L1137.4,747.4 L1135.7,751.2 L1134.0,755.1 L1132.2,758.9 L1130.5,762.8 L1128.8,766.6 L1127.1,770.5 L1125.5,774.4 L1123.8,778.3 L1122.1,782.1 L1120.4,786.0 L1118.7,789.9 L1117.0,793.7 L1115.3,797.6 L1113.5,801.4 L1111.8,805.2 L1110.0,809.1 L1108.2,812.9 L1106.4,816.7 L1104.5,820.5 L1102.7,824.3 L1100.9,828.1 L1099.0,831.9 L1097.2,835.7 L1095.3,839.5 L1093.5,843.3 L1091.7,847.1 L1089.8,850.9 L1088.0,854.7 L1086.2,858.5 L1084.4,862.4 L1082.6,866.2 L1080.8,870.0 L1078.9,873.8 L1077.0,877.6 L1075.1,881.3 L1073.1,885.0 L1071.1,888.8 L1069.1,892.5 L1067.1,896.1 L1065.0,899.8 L1062.8,903.5 L1060.7,907.1 L1058.5,910.7 L1056.2,914.3 L1053.9,917.8 L1051.6,921.3 L1049.2,924.9 L1046.8,928.6 L1044.4,932.2 L1041.8,935.6 L1039.1,938.8 L1036.3,941.7 L1033.2,944.3 L1029.7,947.0 L1026.0,949.6 L1022.1,951.8 L1018.2,953.2 L1014.3,953.5 L1010.3,952.7 L1006.3,951.2 L1002.3,949.1 L998.5,946.7 L995.2,944.4 L992.1,941.8 L989.2,938.7 L986.5,935.4 L983.9,931.8 L981.4,928.3 L979.0,924.9 L976.6,921.4 L974.4,917.8 L972.2,914.2 L970.1,910.5 L968.1,906.8 L966.0,903.1 L964.0,899.4 L962.0,895.6 L960.0,891.9 L958.1,888.2 L956.1,884.4 L954.3,880.7 L952.4,876.9 L950.5,873.1 L948.7,869.3 L946.8,865.5 L944.9,861.7 L942.9,858.0 L940.9,854.3 L938.8,850.6 L936.8,846.9 L934.6,843.3 L932.5,839.6 L930.3,836.0 L928.1,832.4 L925.9,828.8 L923.6,825.3 L921.3,821.8 L918.9,818.3 L916.4,814.8 L914.0,811.3 L911.4,807.9 L908.8,804.6 L906.2,801.4 L903.4,798.2 L900.5,795.2 L897.6,792.1 L894.6,789.1 L891.4,786.2 L888.2,783.4 L884.9,780.7 L881.6,778.2 L878.2,775.9 L874.6,773.7 L870.9,771.6 L867.2,769.7 L863.3,767.8 L859.5,766.0 L855.6,764.3 L851.7,762.7 L847.8,761.1 L843.8,759.7 L839.8,758.4 L835.7,757.1 L831.7,755.8 L827.7,754.5 L823.7,753.1 L819.7,751.7 L815.7,750.4 L811.6,749.3 L807.5,748.3 L803.4,747.5 L799.2,746.8 L795.1,746.1 L790.9,745.3 L786.8,744.5 L782.6,743.7 L778.5,742.8 L774.3,742.1 L770.2,741.5 L766.0,741.0 L761.8,740.7 L757.5,740.4 L753.3,740.0 L749.1,739.6 L745.0,739.0 L740.8,738.3 L736.6,737.5 L732.5,736.7 L728.4,735.7 L724.4,734.5 L720.4,733.1 L716.4,731.5 L712.5,729.9 L708.7,728.1 L704.9,726.3 L701.2,724.3 L697.6,722.1 L693.9,720.0 L690.3,717.8 L686.6,715.7 L683.0,713.4 L679.5,711.1 L675.9,708.9 L672.2,706.8 L668.5,705.0 L664.6,703.2 L660.7,701.4 L656.8,699.8 L652.8,698.5 L648.8,697.4 L644.7,696.4 L640.5,695.5 L636.3,694.8 L632.1,694.4 L627.9,694.3 L623.7,694.4 L619.5,694.4 L615.2,694.5 L611.0,694.5 L606.8,694.7 L602.6,695.1 L598.4,695.6 L594.2,696.3 L590.1,697.1 L585.9,697.8 L581.7,698.5 L577.6,699.2 L573.4,700.0 L569.2,700.8 L565.1,701.7 L561.0,702.7 L556.9,703.7 L552.9,704.8 L548.8,706.0 L544.9,707.3 L540.9,708.8 L537.0,710.4 L533.1,712.1 L529.2,713.8 L525.3,715.6 L521.5,717.4 L517.8,719.2 L514.0,721.2 L510.3,723.2 L506.6,725.2 L502.9,727.3 L499.3,729.5 L495.6,731.6 L492.0,733.7 L488.3,735.9 L484.7,738.0 L481.1,740.2 L477.5,742.4 L473.9,744.6 L470.3,746.8 L466.7,749.0 L463.2,751.3 L459.6,753.6 L456.1,755.9 L452.6,758.3 L449.1,760.7 L445.6,763.1 L442.1,765.5 L438.7,768.0 L435.3,770.5 L432.0,773.0 L428.6,775.6 L425.3,778.2 L422.1,780.9 L418.8,783.6 L415.6,786.3 L412.4,789.1 L409.2,791.9 L406.1,794.7 L402.9,797.5 L399.8,800.3 L396.6,803.1 L393.5,806.0 L390.4,808.8 L387.3,811.7 L384.2,814.6 L381.2,817.5 L378.2,820.5 L375.2,823.5 L372.2,826.5 L369.3,829.5 L366.4,832.6" stroke="#1fa187"/>
<path d="M366.4,824.4 L366.4,820.2 L366.4,816.0 L366.4,811.8 L366.4,807.7 L366.4,803.5 L366.4,799.3 L366.4,795.1 L366.4,790.9 L366.5,786.8 L366.5,782.6 L366.5,778.4 L366.5,774.2 L366.5,770.1 L366.5,765.9 L366.6,761.7 L366.6,757.5 L366.6,753.4 L366.6,749.2 L366.7,745.0 L366.7,740.8 L366.8,736.6 L366.8,732.4 L366.9,728.2 L367.0,724.0 L367.1,719.8 L367.2,715.7 L367.4,711.5 L367.5,707.3 L367.7,703.1 L367.9,699.0 L368.0,694.8 L368.3,690.7 L368.5,686.6 L368.9,682.5 L369.7,678.4 L370.7,674.3 L371.9,670.3 L373.1,666.2 L374.4,662.2 L375.6,658.3 L377.0,654.3 L378.4,650.4 L379.9,646.5 L381.5,642.6 L383.2,638.8 L385.0,635.0 L386.9,631.3 L388.9,627.6 L391.0,624.0 L393.2,620.5 L395.5,616.9 L397.8,613.5 L400.3,610.1 L402.8,606.8 L405.5,603.6 L408.2,600.3 L410.9,597.2 L413.8,594.1 L416.8,591.1 L419.8,588.3 L423.0,585.7 L426.3,583.2 L429.7,580.7 L433.2,578.4 L436.8,576.2 L440.4,574.1 L444.1,572.1 L447.8,570.2 L451.5,568.3 L455.3,566.6 L459.1,564.9 L463.0,563.3 L466.9,561.8 L470.8,560.3 L474.7,558.9 L478.7,557.5 L482.6,556.2 L486.6,554.9 L490.6,553.6 L494.6,552.5 L498.7,551.4 L502.7,550.4 L506.8,549.4 L510.8,548.5 L514.9,547.6 L519.0,546.8 L523.1,545.9 L527.2,545.2 L531.4,544.4 L535.5,543.8 L539.6,543.2 L543.7,542.6 L547.9,542.2 L552.0,541.7 L556.2,541.3 L560.3,540.9 L564.5,540.6 L568.7,540.2 L572.8,539.9 L577.0,539.5 L581.2,539.2 L585.3,538.9 L589.5,538.5 L593.6,538.1 L597.8,537.7 L601.9,537.2 L606.1,536.7 L610.2,536.2 L614.4,535.7 L618.5,535.1 L622.7,534.5 L626.8,533.9 L630.9,533.3 L635.1,532.7 L639.2,532.0 L643.3,531.3 L647.4,530.6 L651.5,529.8 L655.6,528.9 L659.7,528.0 L663.8,527.1 L667.8,526.3 L671.9,525.4 L676.0,524.7 L680.1,523.9 L684.3,523.3 L688.4,522.6 L692.5,521.9 L696.6,521.3 L700.8,520.7 L704.9,520.1 L709.1,519.5 L713.2,519.0 L717.3,518.6 L721.5,518.2 L725.7,517.8 L729.8,517.5 L734.0,517.2 L738.1,516.9 L742.3,516.6 L746.5,516.3 L750.6,516.1 L754.8,515.8 L759.0,515.6 L763.2,515.3 L767.3,515.1 L771.5,515.0 L775.7,514.8 L779.9,514.7 L784.0,514.5 L788.2,514.3 L792.4,514.1 L796.5,513.8 L800.7,513.5 L804.8,513.1 L809.0,512.4 L813.1,511.7 L817.2,510.9 L821.3,510.1 L825.4,509.2 L829.5,508.2 L833.5,507.2 L837.5,506.0 L841.4,504.7 L845.3,503.2 L849.2,501.6 L853.0,499.8 L856.7,497.9 L860.5,496.0 L864.1,494.1 L867.7,492.0 L871.3,489.8 L874.9,487.6 L878.4,485.4 L882.0,483.2 L885.5,480.9 L889.0,478.7 L892.5,476.3 L895.9,474.0 L899.4,471.6 L902.8,469.2 L906.1,466.7 L909.4,464.1 L912.7,461.5 L916.1,459.1 L919.5,456.7 L923.0,454.5 L926.6,452.4 L930.3,450.3 L934.0,448.3 L937.7,446.5 L941.5,444.7 L945.3,443.1 L949.2,441.5 L953.1,440.0 L957.1,438.7 L961.1,437.5 L965.1,436.5 L969.2,435.5 L973.3,434.7 L977.4,433.7 L981.4,432.6 L985.4,431.4 L989.4,430.2 L993.4,428.8 L997.3,427.3 L1001.1,425.7 L1004.8,423.9 L1008.4,421.8 L1012.0,419.6 L1015.5,417.4 L1019.0,415.0 L1022.5,412.7 L1025.9,410.3 L1029.3,407.9 L1032.7,405.3 L1035.9,402.7 L1039.2,400.1 L1042.3,397.4 L1045.4,394.6 L1048.5,391.8 L1051.5,388.9 L1054.5,385.9 L1057.4,382.9 L1060.3,379.9 L1063.1,376.8 L1065.9,373.7 L1068.7,370.6 L1071.4,367.4 L1074.0,364.2 L1076.6,360.9 L1079.2,357.7 L1081.8,354.3 L1084.3,351.0 L1086.8,347.6 L1089.2,344.2 L1091.7,340.8 L1094.1,337.4 L1096.4,334.0 L1098.7,330.5 L1101.0,327.0 L1103.2,323.5 L1105.4,319.9 L1107.7,316.4 L1109.8,312.8 L1112.0,309.3 L1114.2,305.7 L1116.4,302.2 L1118.6,298.6 L1120.8,295.1 L1123.0,291.5 L1125.1,287.9 L1127.3,284.3 L1129.5,280.7 L1131.6,277.2 L1133.9,273.7 L1136.1,270.2 L1138.4,266.7 L1140.8,263.2 L1143.2,259.8 L1145.7,256.4 L1148.1,253.1 L1150.7,249.8 L1153.2,246.4 L1155.8,243.0 L1158.5,239.9 L1161.5,237.1 L1164.7,234.3 L1168.2,231.7 L1171.8,229.6 L1175.6,228.2 L1179.5,227.0 L1183.7,226.0 L1187.9,225.4 L1192.0,225.2 L1196.2,225.7 L1200.4,226.7 L1204.4,228.0 L1208.2,229.4 L1211.7,231.3 L1215.1,233.8 L1218.3,236.7 L1221.4,239.7 L1224.5,242.5 L1227.6,245.3 L1230.6,248.2 L1233.6,251.2 L1236.5,254.2 L1239.3,257.3 L1242.0,260.4 L1244.6,263.6 L1247.2,266.9 L1249.7,270.3 L1252.1,273.7 L1254.6,277.1 L1257.0,280.5 L1259.5,283.8 L1261.9,287.2 L1264.3,290.6 L1266.7,294.1 L1269.1,297.5 L1271.5,300.9 L1274.0,304.3 L1276.4,307.7 L1278.8,311.1 L1281.3,314.4 L1283.8,317.8 L1286.3,321.2 L1288.8,324.5 L1291.3,327.9 L1293.8,331.2 L1296.4,334.5 L1299.0,337.8 L1301.6,341.0 L1304.3,344.2 L1307.0,347.3 L1309.8,350.5 L1312.6,353.6 L1315.4,356.7 L1318.3,359.7 L1321.2,362.7 L1324.2,365.6 L1327.2,368.5 L1330.3,371.3 L1333.5,374.0 L1336.7,376.6 L1340.0,379.2 L1343.3,381.7 L1346.7,384.2 L1350.1,386.7 L1353.5,389.1 L1356.9,391.5 L1360.4,393.9 L1363.9,396.2 L1367.5,398.3 L1371.2,400.2 L1375.7,401.8 L1380.8,403.0 L1385.2,404.4 L1387.8,406.0 L1388.1,408.2 L1388.2,411.3 L1388.3,415.1 L1388.3,419.4 L1388.4,424.1 L1388.4,428.9 L1388.5,433.8 L1388.5,438.5 L1388.5,442.9 L1388.5,447.0 L1388.3,451.2 L1388.1,455.4 L1387.9,459.6 L1387.5,463.7 L1387.2,467.9 L1386.8,472.1 L1386.5,476.2 L1386.1,480.4 L1385.7,484.5 L1385.2,488.7 L1384.7,492.8 L1384.2,497.0 L1383.6,501.1 L1383.0,505.2 L1382.3,509.4 L1381.6,513.5 L1380.9,517.6 L1380.0,521.7 L1379.2,525.8 L1378.2,529.9 L1377.2,533.9 L1376.0,537.9 L1374.6,541.9 L1373.2,545.9 L1371.5,549.7 L1369.8,553.5 L1367.9,557.1 L1365.7,560.6 L1363.3,564.1 L1360.6,567.4 L1357.8,570.5 L1354.9,573.6 L1352.0,576.5 L1348.9,579.3 L1345.7,582.1 L1342.4,584.8 L1339.0,587.3 L1335.5,589.6 L1332.0,591.7 L1328.4,593.6 L1324.7,595.3 L1320.8,597.0 L1316.9,598.5 L1313.0,600.0 L1308.9,601.4 L1304.9,602.7 L1300.9,603.9 L1296.9,605.1 L1292.9,606.2 L1288.8,607.2 L1284.7,608.1 L1280.6,609.0 L1276.5,609.8 L1272.3,610.6 L1268.1,611.4 L1264.0,612.2 L1259.9,613.0 L1255.7,613.8 L1251.7,614.7 L1247.6,615.7 L1243.7,616.8 L1239.7,617.9 L1235.9,619.2 L1232.1,620.7 L1228.3,622.5 L1224.6,624.5 L1220.9,626.7 L1217.4,628.9 L1213.9,631.3 L1210.5,633.7 L1207.2,636.2 L1204.1,638.9 L1201.0,641.8 L1197.9,644.7 L1195.0,647.8 L1192.2,650.8 L1189.4,653.9 L1186.7,657.1 L1184.1,660.3 L1181.5,663.7 L1179.0,667.0 L1176.6,670.4 L1174.2,673.9 L1171.9,677.4 L1169.7,680.9 L1167.6,684.4 L1165.5,688.1 L1163.4,691.7 L1161.4,695.4 L1159.5,699.1 L1157.5,702.8 L1155.6,706.5 L1153.7,710.3 L1151.8,714.0 L1150.0,717.7 L1148.1,721.5 L1146.3,725.2 L1144.5,729.0 L1142.7,732.8 L1141.0,736.6 L1139.2,740.3 L1137.5,744.1 L1135.7,747.9 L1134.0,751.7 L1132.2,755.5 L1130.5,759.3 L1128.8,763.1 L1127.1,766.9 L1125.4,770.7 L1123.7,774.6 L1122.0,778.4 L1120.3,782.2 L1118.5,786.0 L1116.8,789.8 L1115.1,793.6 L1113.3,797.4 L1111.5,801.1 L1109.7,804.9 L1107.9,808.7 L1106.1,812.4 L1104.3,816.2 L1102.4,819.9 L1100.6,823.7 L1098.7,827.4 L1096.9,831.2 L1095.0,834.9 L1093.2,838.7 L1091.4,842.4 L1089.5,846.2 L1087.7,849.9 L1085.9,853.7 L1084.1,857.5 L1082.2,861.2 L1080.4,865.0 L1078.5,868.7 L1076.6,872.4 L1074.7,876.1 L1072.7,879.8 L1070.7,883.4 L1068.6,887.1 L1066.6,890.7 L1064.5,894.3 L1062.3,897.9 L1060.1,901.5 L1057.9,905.0 L1055.7,908.5 L1053.3,912.0 L1051.0,915.5 L1048.7,919.0 L1046.3,922.6 L1043.8,926.1 L1041.2,929.5 L1038.5,932.6 L1035.7,935.4 L1032.6,938.0 L1029.1,940.7 L1025.4,943.2 L1021.5,945.3 L1017.7,946.6 L1013.8,946.8 L1009.9,946.0 L1005.8,944.5 L1001.8,942.5 L998.1,940.4 L994.7,938.2 L991.6,935.7 L988.7,932.7 L986.0,929.3 L983.3,925.9 L980.8,922.5 L978.3,919.2 L976.0,915.8 L973.7,912.3 L971.5,908.7 L969.4,905.1 L967.3,901.5 L965.2,897.8 L963.1,894.1 L961.1,890.5 L959.1,886.9 L957.1,883.2 L955.2,879.5 L953.3,875.8 L951.4,872.0 L949.5,868.3 L947.6,864.6 L945.7,860.9 L943.7,857.2 L941.7,853.5 L939.7,849.9 L937.6,846.2 L935.6,842.6 L933.5,838.9 L931.4,835.3 L929.2,831.8 L927.0,828.2 L924.8,824.7 L922.5,821.2 L920.1,817.8 L917.7,814.3 L915.3,810.9 L912.8,807.6 L910.2,804.2 L907.6,801.0 L904.8,797.9 L902.0,794.8 L899.1,791.8 L896.2,788.8 L893.1,785.9 L889.9,783.1 L886.7,780.4 L883.4,777.9 L880.0,775.6 L876.5,773.5 L872.9,771.5 L869.1,769.6 L865.3,767.8 L861.4,766.1 L857.5,764.5 L853.7,762.9 L849.8,761.4 L845.9,760.0 L841.9,758.6 L837.9,757.3 L834.0,756.0 L830.0,754.7 L826.0,753.4 L822.0,752.1 L818.1,750.8 L814.0,749.6 L810.0,748.6 L805.9,747.9 L801.8,747.2 L797.7,746.6 L793.5,746.0 L789.4,745.3 L785.3,744.5 L781.2,743.7 L777.1,742.9 L773.0,742.2 L768.8,741.8 L764.7,741.5 L760.5,741.2 L756.3,741.0 L752.1,740.8 L748.0,740.4 L743.8,739.9 L739.7,739.3 L735.6,738.6 L731.5,737.8 L727.4,736.9 L723.4,735.7 L719.5,734.3 L715.6,732.7 L711.7,731.0 L708.0,729.3 L704.3,727.4 L700.6,725.4 L697.0,723.2 L693.4,721.1 L689.8,718.9 L686.3,716.7 L682.8,714.4 L679.3,712.0 L675.8,709.8 L672.2,707.6 L668.6,705.7 L664.8,703.8 L661.0,702.0 L657.2,700.3 L653.3,698.8 L649.3,697.6 L645.3,696.5 L641.2,695.5 L637.1,694.6 L632.9,694.0 L628.8,693.9 L624.6,693.9 L620.4,693.9 L616.3,693.9 L612.1,693.9 L607.9,693.9 L603.8,694.2 L599.6,694.7 L595.5,695.3 L591.3,695.9 L587.2,696.6 L583.1,697.3 L578.9,697.9 L574.8,698.6 L570.7,699.3 L566.5,700.1 L562.4,700.9 L558.4,701.8 L554.3,702.8 L550.3,703.8 L546.4,705.0 L542.4,706.4 L538.5,707.9 L534.6,709.4 L530.7,711.1 L526.9,712.7 L523.0,714.4 L519.3,716.1 L515.5,718.0 L511.8,719.9 L508.1,721.8 L504.4,723.8 L500.8,725.9 L497.1,727.9 L493.5,730.0 L489.9,732.1 L486.2,734.1 L482.6,736.2 L479.0,738.4 L475.4,740.5 L471.9,742.7 L468.3,744.9 L464.8,747.1 L461.3,749.3 L457.8,751.6 L454.3,753.9 L450.8,756.2 L447.3,758.5 L443.9,760.9 L440.4,763.3 L437.0,765.7 L433.7,768.1 L430.3,770.6 L427.0,773.1 L423.7,775.7 L420.4,778.3 L417.2,780.9 L413.9,783.6 L410.7,786.2 L407.5,788.9 L404.3,791.6 L401.1,794.3 L397.9,796.9 L394.7,799.6 L391.4,802.3 L388.3,805.0 L385.1,807.7 L381.9,810.4 L378.8,813.1 L375.7,815.9 L372.6,818.7 L369.5,821.5 L366.4,824.4" stroke="#277f8e"/>
<path d="M366.4,817.8 L366.4,813.7 L366.4,809.5 L366.4,805.4 L366.4,801.3 L366.4,797.1 L366.4,793.0 L366.4,788.9 L366.5,784.8 L366.5,780.6 L366.5,776.5 L366.5,772.4 L366.5,768.3 L366.5,764.1 L366.6,760.0 L366.6,755.9 L366.6,751.7 L366.6,747.6 L366.7,743.5 L366.7,739.3 L366.7,735.2 L366.8,731.0 L366.9,726.9 L367.0,722.7 L367.1,718.6 L367.2,714.5 L367.3,710.3 L367.4,706.2 L367.6,702.1 L367.7,697.9 L367.9,693.8 L368.1,689.8 L368.3,685.7 L368.6,681.6 L369.2,677.6 L370.0,673.5 L371.1,669.5 L372.3,665.5 L373.6,661.5 L374.8,657.6 L376.1,653.7 L377.5,649.8 L379.0,645.9 L380.6,642.1 L382.2,638.3 L383.9,634.6 L385.8,630.9 L387.7,627.2 L389.8,623.7 L391.9,620.1 L394.2,616.7 L396.5,613.2 L398.9,609.9 L401.4,606.6 L404.0,603.4 L406.7,600.2 L409.4,597.1 L412.2,594.0 L415.2,591.0 L418.1,588.2 L421.2,585.5 L424.4,583.0 L427.8,580.6 L431.2,578.3 L434.8,576.1 L438.4,574.0 L442.0,572.0 L445.7,570.2 L449.3,568.4 L453.1,566.6 L456.9,565.0 L460.7,563.4 L464.6,561.9 L468.5,560.4 L472.3,559.0 L476.2,557.7 L480.1,556.4 L484.1,555.1 L488.0,553.9 L492.0,552.7 L496.0,551.6 L500.0,550.6 L504.0,549.6 L508.0,548.7 L512.0,547.8 L516.1,547.0 L520.1,546.1 L524.2,545.3 L528.3,544.6 L532.3,543.9 L536.4,543.3 L540.5,542.8 L544.6,542.3 L548.7,541.8 L552.8,541.4 L556.9,541.1 L561.0,540.7 L565.1,540.4 L569.3,540.1 L573.4,539.8 L577.5,539.5 L581.6,539.2 L585.7,538.9 L589.9,538.6 L594.0,538.2 L598.1,537.8 L602.2,537.4 L606.3,536.9 L610.4,536.4 L614.5,535.9 L618.6,535.3 L622.7,534.8 L626.8,534.2 L630.8,533.6 L634.9,533.0 L639.0,532.3 L643.1,531.7 L647.1,530.9 L651.2,530.1 L655.2,529.3 L659.3,528.4 L663.3,527.6 L667.4,526.7 L671.4,525.9 L675.5,525.2 L679.5,524.5 L683.6,523.8 L687.7,523.2 L691.8,522.6 L695.8,521.9 L699.9,521.3 L704.0,520.8 L708.1,520.3 L712.2,519.8 L716.3,519.3 L720.4,519.0 L724.5,518.6 L728.7,518.3 L732.8,518.0 L736.9,517.8 L741.0,517.5 L745.1,517.3 L749.3,517.1 L753.4,516.8 L757.5,516.6 L761.6,516.4 L765.8,516.3 L769.9,516.1 L774.0,516.0 L778.2,515.9 L782.3,515.8 L786.4,515.6 L790.5,515.4 L794.7,515.3 L798.8,515.0 L802.9,514.7 L807.0,514.2 L811.0,513.5 L815.1,512.8 L819.2,512.0 L823.2,511.2 L827.3,510.2 L831.3,509.2 L835.3,508.1 L839.2,506.9 L843.1,505.6 L846.9,504.1 L850.8,502.5 L854.5,500.8 L858.2,499.0 L861.9,497.1 L865.5,495.1 L869.1,493.0 L872.6,490.9 L876.1,488.7 L879.6,486.5 L883.1,484.3 L886.6,482.0 L890.0,479.8 L893.5,477.5 L896.9,475.2 L900.3,472.9 L903.6,470.4 L906.9,467.8 L910.1,465.2 L913.3,462.6 L916.6,460.2 L920.0,457.8 L923.4,455.6 L927.0,453.4 L930.5,451.3 L934.2,449.3 L937.8,447.4 L941.6,445.7 L945.3,444.0 L949.2,442.4 L953.0,440.9 L956.9,439.6 L960.9,438.4 L964.9,437.4 L968.9,436.6 L973.0,435.8 L977.0,434.9 L981.0,433.9 L985.0,432.8 L989.0,431.6 L992.9,430.3 L996.8,428.9 L1000.6,427.4 L1004.3,425.7 L1008.0,423.8 L1011.6,421.7 L1015.2,419.6 L1018.7,417.4 L1022.2,415.2 L1025.6,412.9 L1029.1,410.6 L1032.4,408.2 L1035.8,405.7 L1039.0,403.2 L1042.1,400.6 L1045.2,397.9 L1048.3,395.1 L1051.3,392.3 L1054.2,389.3 L1057.1,386.4 L1060.0,383.4 L1062.8,380.3 L1065.6,377.3 L1068.3,374.2 L1071.1,371.1 L1073.7,368.0 L1076.4,364.8 L1079.0,361.6 L1081.5,358.4 L1084.1,355.1 L1086.6,351.8 L1089.0,348.5 L1091.5,345.1 L1093.9,341.8 L1096.3,338.4 L1098.6,335.0 L1100.8,331.6 L1103.1,328.1 L1105.3,324.6 L1107.5,321.1 L1109.8,317.7 L1112.0,314.2 L1114.2,310.7 L1116.4,307.2 L1118.7,303.7 L1120.9,300.3 L1123.1,296.8 L1125.3,293.3 L1127.5,289.8 L1129.8,286.3 L1132.1,282.9 L1134.4,279.5 L1136.7,276.1 L1139.1,272.8 L1141.6,269.5 L1144.2,266.2 L1146.8,263.0 L1149.4,259.8 L1152.0,256.6 L1154.6,253.3 L1157.3,250.2 L1160.2,247.3 L1163.4,244.7 L1166.8,242.1 L1170.4,240.0 L1174.1,238.4 L1178.0,237.2 L1182.0,236.2 L1186.2,235.4 L1190.3,235.1 L1194.4,235.3 L1198.5,236.1 L1202.6,237.2 L1206.5,238.6 L1210.1,240.2 L1213.5,242.4 L1216.7,245.1 L1219.9,248.0 L1223.0,250.8 L1226.1,253.5 L1229.1,256.3 L1232.1,259.2 L1235.1,262.1 L1237.9,265.1 L1240.7,268.1 L1243.5,271.1 L1246.1,274.3 L1248.7,277.5 L1251.3,280.8 L1253.8,284.0 L1256.3,287.3 L1258.9,290.6 L1261.4,293.8 L1263.8,297.1 L1266.3,300.5 L1268.8,303.8 L1271.2,307.1 L1273.7,310.4 L1276.2,313.7 L1278.7,317.0 L1281.3,320.2 L1283.8,323.5 L1286.4,326.7 L1288.9,330.0 L1291.5,333.2 L1294.1,336.4 L1296.7,339.6 L1299.4,342.7 L1302.1,345.8 L1304.9,348.9 L1307.7,351.9 L1310.5,354.9 L1313.4,357.9 L1316.3,360.9 L1319.2,363.8 L1322.2,366.6 L1325.3,369.4 L1328.3,372.1 L1331.5,374.8 L1334.7,377.3 L1338.0,379.9 L1341.3,382.4 L1344.7,384.8 L1348.0,387.2 L1351.4,389.5 L1354.9,391.8 L1358.3,394.1 L1361.8,396.4 L1365.3,398.6 L1368.9,400.5 L1372.8,402.2 L1377.7,403.5 L1382.7,404.7 L1386.5,406.0 L1388.0,407.7 L1388.1,410.2 L1388.2,413.5 L1388.3,417.4 L1388.4,421.8 L1388.4,426.5 L1388.5,431.3 L1388.5,436.1 L1388.5,440.7 L1388.5,445.0 L1388.4,449.1 L1388.3,453.2 L1388.1,457.3 L1387.9,461.5 L1387.6,465.6 L1387.2,469.7 L1386.9,473.8 L1386.5,477.9 L1386.2,482.1 L1385.8,486.2 L1385.3,490.3 L1384.7,494.3 L1384.1,498.4 L1383.5,502.5 L1382.8,506.6 L1382.1,510.7 L1381.4,514.8 L1380.7,518.8 L1379.8,522.9 L1378.9,526.9 L1378.0,530.9 L1376.9,534.9 L1375.7,538.8 L1374.3,542.8 L1372.8,546.7 L1371.2,550.5 L1369.4,554.2 L1367.5,557.7 L1365.3,561.2 L1362.8,564.6 L1360.2,567.8 L1357.4,571.0 L1354.6,573.9 L1351.7,576.8 L1348.6,579.6 L1345.5,582.4 L1342.2,585.0 L1338.8,587.5 L1335.4,589.8 L1331.9,591.8 L1328.3,593.6 L1324.6,595.4 L1320.8,597.0 L1316.9,598.5 L1313.0,600.0 L1309.1,601.3 L1305.1,602.6 L1301.1,603.9 L1297.2,605.0 L1293.2,606.1 L1289.2,607.1 L1285.2,608.1 L1281.1,608.9 L1277.0,609.7 L1272.9,610.5 L1268.8,611.3 L1264.7,612.1 L1260.6,612.9 L1256.5,613.7 L1252.5,614.6 L1248.5,615.5 L1244.5,616.5 L1240.6,617.7 L1236.8,618.9 L1233.0,620.3 L1229.3,622.0 L1225.6,623.9 L1221.9,625.9 L1218.3,628.1 L1214.8,630.4 L1211.4,632.7 L1208.1,635.1 L1204.9,637.7 L1201.8,640.4 L1198.7,643.2 L1195.7,646.1 L1192.9,649.1 L1190.1,652.1 L1187.3,655.2 L1184.6,658.3 L1182.0,661.5 L1179.5,664.8 L1177.0,668.1 L1174.6,671.5 L1172.2,674.9 L1170.0,678.3 L1167.8,681.8 L1165.7,685.4 L1163.7,688.9 L1161.6,692.6 L1159.7,696.2 L1157.7,699.8 L1155.8,703.5 L1153.9,707.2 L1152.0,710.8 L1150.1,714.5 L1148.2,718.2 L1146.4,721.9 L1144.6,725.6 L1142.8,729.3 L1141.0,733.0 L1139.2,736.8 L1137.4,740.5 L1135.7,744.2 L1133.9,747.9 L1132.1,751.7 L1130.3,755.4 L1128.6,759.1 L1126.9,762.9 L1125.1,766.6 L1123.4,770.4 L1121.7,774.1 L1119.9,777.9 L1118.2,781.6 L1116.4,785.4 L1114.6,789.1 L1112.8,792.8 L1111.0,796.5 L1109.2,800.2 L1107.4,803.9 L1105.6,807.6 L1103.8,811.3 L1101.9,815.0 L1100.1,818.7 L1098.2,822.4 L1096.4,826.1 L1094.5,829.8 L1092.7,833.5 L1090.8,837.2 L1089.0,840.9 L1087.1,844.6 L1085.3,848.3 L1083.5,852.0 L1081.6,855.6 L1079.7,859.3 L1077.8,863.0 L1075.9,866.6 L1073.9,870.3 L1071.9,873.9 L1069.9,877.4 L1067.8,881.0 L1065.7,884.6 L1063.6,888.1 L1061.4,891.7 L1059.2,895.2 L1057.0,898.6 L1054.7,902.1 L1052.4,905.5 L1050.0,908.9 L1047.7,912.4 L1045.3,915.9 L1042.8,919.3 L1040.2,922.5 L1037.4,925.5 L1034.5,928.2 L1031.3,930.8 L1027.8,933.5 L1024.1,936.0 L1020.3,937.9 L1016.5,938.9 L1012.7,938.8 L1008.7,937.9 L1004.6,936.4 L1000.7,934.6 L997.0,932.6 L993.7,930.6 L990.6,928.0 L987.7,925.0 L984.9,921.7 L982.2,918.4 L979.6,915.2 L977.2,911.9 L974.8,908.6 L972.5,905.2 L970.2,901.7 L968.0,898.1 L965.9,894.6 L963.8,891.0 L961.7,887.4 L959.6,883.9 L957.6,880.3 L955.6,876.7 L953.6,873.0 L951.7,869.4 L949.8,865.7 L947.9,862.1 L945.9,858.4 L944.0,854.8 L942.0,851.2 L939.9,847.6 L937.9,844.0 L935.9,840.4 L933.8,836.8 L931.7,833.2 L929.6,829.6 L927.5,826.1 L925.3,822.6 L923.0,819.2 L920.7,815.8 L918.3,812.4 L915.9,809.1 L913.4,805.8 L910.8,802.5 L908.2,799.3 L905.5,796.2 L902.7,793.2 L899.8,790.3 L896.8,787.3 L893.8,784.4 L890.7,781.6 L887.4,779.0 L884.1,776.5 L880.8,774.3 L877.3,772.3 L873.7,770.4 L869.9,768.7 L866.1,767.1 L862.2,765.5 L858.3,764.0 L854.4,762.6 L850.5,761.1 L846.7,759.7 L842.8,758.3 L838.9,756.9 L835.0,755.6 L831.0,754.3 L827.1,753.1 L823.1,751.9 L819.2,750.6 L815.2,749.5 L811.2,748.6 L807.1,747.9 L803.1,747.3 L799.0,746.8 L794.9,746.3 L790.8,745.7 L786.7,745.1 L782.6,744.3 L778.6,743.5 L774.5,742.8 L770.4,742.3 L766.3,742.1 L762.2,742.0 L758.0,741.9 L753.9,741.8 L749.8,741.6 L745.7,741.2 L741.5,740.8 L737.4,740.2 L733.3,739.6 L729.3,738.8 L725.4,737.8 L721.4,736.5 L717.5,735.0 L713.7,733.4 L709.9,731.8 L706.2,730.0 L702.6,728.0 L699.0,725.9 L695.5,723.7 L692.0,721.5 L688.5,719.3 L685.1,717.0 L681.7,714.6 L678.3,712.3 L674.8,710.0 L671.3,707.8 L667.7,705.9 L664.1,703.9 L660.3,702.0 L656.6,700.3 L652.7,698.8 L648.8,697.5 L644.9,696.3 L640.9,695.2 L636.8,694.3 L632.7,693.6 L628.6,693.5 L624.5,693.4 L620.4,693.4 L616.2,693.4 L612.1,693.4 L608.0,693.4 L603.9,693.6 L599.8,694.0 L595.7,694.6 L591.6,695.2 L587.5,695.8 L583.4,696.5 L579.3,697.0 L575.2,697.7 L571.1,698.3 L567.0,699.0 L563.0,699.8 L558.9,700.6 L554.9,701.5 L550.9,702.5 L547.0,703.6 L543.1,704.9 L539.2,706.2 L535.3,707.7 L531.4,709.3 L527.6,710.9 L523.8,712.5 L520.0,714.1 L516.3,715.9 L512.6,717.7 L508.9,719.6 L505.3,721.5 L501.6,723.5 L498.0,725.5 L494.4,727.5 L490.8,729.5 L487.2,731.5 L483.6,733.5 L480.0,735.6 L476.4,737.7 L472.9,739.8 L469.4,742.0 L465.8,744.1 L462.3,746.3 L458.9,748.5 L455.4,750.8 L451.9,753.0 L448.5,755.3 L445.1,757.6 L441.7,760.0 L438.3,762.3 L434.9,764.7 L431.6,767.1 L428.2,769.5 L424.9,772.0 L421.6,774.5 L418.4,777.0 L415.1,779.6 L411.9,782.1 L408.6,784.7 L405.4,787.2 L402.1,789.7 L398.8,792.3 L395.6,794.8 L392.3,797.3 L389.0,799.8 L385.8,802.3 L382.5,804.9 L379.3,807.4 L376.0,810.0 L372.8,812.6 L369.6,815.2 L366.4,817.8" stroke="#365c8d"/>
<path d="M366.4,813.7 L366.4,809.6 L366.4,805.5 L366.4,801.4 L366.4,797.3 L366.4,793.2 L366.4,789.1 L366.4,785.0 L366.5,781.0 L366.5,776.9 L366.5,772.8 L366.5,768.7 L366.5,764.6 L366.5,760.5 L366.6,756.4 L366.6,752.3 L366.6,748.2 L366.6,744.1 L366.7,740.0 L366.7,735.9 L366.8,731.8 L366.8,727.7 L366.9,723.6 L367.0,719.5 L367.1,715.4 L367.2,711.3 L367.3,707.2 L367.5,703.1 L367.6,699.0 L367.8,694.9 L368.0,690.9 L368.2,686.8 L368.4,682.8 L368.7,678.7 L369.3,674.7 L370.2,670.7 L371.3,666.8 L372.5,662.8 L373.8,658.9 L375.0,655.0 L376.3,651.1 L377.7,647.3 L379.3,643.5 L380.9,639.7 L382.5,636.0 L384.3,632.3 L386.2,628.6 L388.1,625.0 L390.2,621.5 L392.4,618.0 L394.6,614.6 L397.0,611.3 L399.5,608.0 L402.0,604.8 L404.6,601.6 L407.2,598.5 L410.0,595.4 L412.8,592.4 L415.7,589.5 L418.7,586.7 L421.8,584.1 L425.0,581.7 L428.4,579.4 L431.8,577.1 L435.4,575.0 L439.0,573.0 L442.6,571.0 L446.3,569.2 L449.9,567.5 L453.7,565.8 L457.4,564.2 L461.2,562.7 L465.1,561.2 L468.9,559.8 L472.8,558.4 L476.7,557.1 L480.6,555.8 L484.5,554.6 L488.4,553.4 L492.3,552.3 L496.3,551.2 L500.2,550.2 L504.2,549.3 L508.2,548.4 L512.2,547.5 L516.2,546.7 L520.2,545.9 L524.3,545.1 L528.3,544.4 L532.3,543.7 L536.4,543.1 L540.4,542.6 L544.5,542.1 L548.5,541.7 L552.6,541.3 L556.7,541.0 L560.8,540.7 L564.8,540.4 L568.9,540.1 L573.0,539.8 L577.1,539.6 L581.2,539.3 L585.3,539.0 L589.4,538.7 L593.4,538.3 L597.5,538.0 L601.6,537.5 L605.6,537.1 L609.7,536.6 L613.8,536.1 L617.8,535.6 L621.9,535.0 L625.9,534.5 L630.0,533.9 L634.0,533.3 L638.1,532.7 L642.1,532.0 L646.1,531.3 L650.2,530.5 L654.2,529.7 L658.2,528.9 L662.2,528.1 L666.2,527.3 L670.2,526.5 L674.2,525.7 L678.3,525.0 L682.3,524.4 L686.3,523.8 L690.4,523.1 L694.4,522.5 L698.5,522.0 L702.6,521.4 L706.6,520.9 L710.7,520.4 L714.7,520.0 L718.8,519.6 L722.9,519.3 L727.0,519.0 L731.0,518.8 L735.1,518.5 L739.2,518.3 L743.3,518.1 L747.4,517.9 L751.5,517.7 L755.6,517.5 L759.7,517.3 L763.7,517.2 L767.8,517.1 L771.9,517.0 L776.0,516.9 L780.1,516.8 L784.2,516.7 L788.3,516.6 L792.4,516.4 L796.5,516.2 L800.5,516.0 L804.6,515.6 L808.7,515.1 L812.7,514.4 L816.7,513.6 L820.8,512.9 L824.8,512.0 L828.8,511.1 L832.7,510.1 L836.7,509.0 L840.6,507.8 L844.4,506.4 L848.3,505.0 L852.0,503.4 L855.8,501.7 L859.5,499.9 L863.1,498.1 L866.6,496.1 L870.1,493.9 L873.6,491.8 L877.1,489.5 L880.6,487.4 L884.0,485.2 L887.5,483.0 L890.9,480.8 L894.3,478.5 L897.7,476.2 L901.1,473.9 L904.3,471.4 L907.5,468.8 L910.6,466.2 L913.8,463.6 L917.0,461.1 L920.4,458.7 L923.8,456.5 L927.2,454.3 L930.8,452.2 L934.3,450.1 L938.0,448.3 L941.6,446.5 L945.4,444.8 L949.1,443.2 L953.0,441.7 L956.8,440.3 L960.7,439.2 L964.7,438.2 L968.7,437.4 L972.8,436.7 L976.8,435.9 L980.8,435.0 L984.7,433.9 L988.7,432.8 L992.6,431.6 L996.5,430.3 L1000.3,428.8 L1004.0,427.2 L1007.7,425.4 L1011.3,423.5 L1014.9,421.4 L1018.4,419.4 L1021.9,417.3 L1025.4,415.1 L1028.9,412.9 L1032.3,410.6 L1035.6,408.3 L1038.9,405.8 L1042.1,403.3 L1045.2,400.7 L1048.2,397.9 L1051.2,395.1 L1054.1,392.2 L1057.0,389.3 L1059.8,386.3 L1062.6,383.3 L1065.4,380.3 L1068.2,377.3 L1070.9,374.2 L1073.5,371.1 L1076.2,368.0 L1078.8,364.9 L1081.4,361.7 L1083.9,358.5 L1086.5,355.2 L1089.0,352.0 L1091.4,348.7 L1093.8,345.4 L1096.2,342.1 L1098.5,338.7 L1100.8,335.3 L1103.1,331.9 L1105.3,328.5 L1107.5,325.1 L1109.8,321.6 L1112.0,318.2 L1114.2,314.8 L1116.5,311.4 L1118.8,308.0 L1121.1,304.6 L1123.3,301.1 L1125.6,297.7 L1127.9,294.3 L1130.2,290.9 L1132.5,287.6 L1134.9,284.3 L1137.4,281.0 L1139.9,277.8 L1142.5,274.7 L1145.2,271.6 L1147.9,268.5 L1150.6,265.4 L1153.3,262.3 L1156.0,259.2 L1158.9,256.3 L1162.0,253.7 L1165.3,251.2 L1168.9,249.0 L1172.5,247.2 L1176.3,246.0 L1180.3,245.0 L1184.4,244.1 L1188.5,243.6 L1192.5,243.6 L1196.6,244.1 L1200.7,245.1 L1204.7,246.4 L1208.4,247.7 L1211.8,249.6 L1215.1,252.1 L1218.3,254.9 L1221.4,257.7 L1224.5,260.3 L1227.6,263.0 L1230.6,265.8 L1233.6,268.6 L1236.5,271.5 L1239.4,274.4 L1242.2,277.4 L1245.0,280.4 L1247.6,283.5 L1250.3,286.6 L1252.9,289.8 L1255.5,292.9 L1258.1,296.1 L1260.7,299.3 L1263.2,302.5 L1265.7,305.7 L1268.3,308.9 L1270.8,312.1 L1273.3,315.4 L1275.8,318.6 L1278.4,321.7 L1281.0,324.9 L1283.6,328.0 L1286.2,331.2 L1288.9,334.3 L1291.5,337.5 L1294.2,340.6 L1296.9,343.7 L1299.6,346.7 L1302.4,349.7 L1305.2,352.7 L1308.0,355.6 L1310.9,358.5 L1313.9,361.4 L1316.8,364.2 L1319.8,367.0 L1322.9,369.7 L1326.0,372.4 L1329.1,375.0 L1332.3,377.5 L1335.6,380.0 L1338.9,382.5 L1342.2,384.8 L1345.6,387.2 L1349.0,389.5 L1352.4,391.7 L1355.8,393.9 L1359.3,396.2 L1362.8,398.4 L1366.3,400.4 L1370.0,402.2 L1374.1,403.7 L1379.1,404.8 L1383.9,405.9 L1387.2,407.2 L1388.0,409.0 L1388.2,411.7 L1388.2,415.1 L1388.3,419.1 L1388.4,423.6 L1388.4,428.3 L1388.5,433.1 L1388.5,437.9 L1388.5,442.4 L1388.5,446.5 L1388.4,450.6 L1388.3,454.7 L1388.1,458.8 L1387.9,462.9 L1387.6,467.0 L1387.3,471.1 L1387.0,475.1 L1386.6,479.2 L1386.3,483.3 L1385.9,487.3 L1385.3,491.4 L1384.7,495.5 L1384.0,499.5 L1383.4,503.5 L1382.7,507.6 L1382.0,511.6 L1381.3,515.7 L1380.5,519.7 L1379.7,523.7 L1378.8,527.7 L1377.8,531.6 L1376.7,535.6 L1375.5,539.5 L1374.1,543.4 L1372.6,547.3 L1371.0,551.0 L1369.2,554.7 L1367.3,558.2 L1365.1,561.6 L1362.6,564.9 L1359.9,568.1 L1357.2,571.2 L1354.4,574.1 L1351.5,577.0 L1348.5,579.8 L1345.3,582.5 L1342.0,585.1 L1338.7,587.5 L1335.3,589.8 L1331.8,591.8 L1328.3,593.6 L1324.6,595.4 L1320.9,597.0 L1317.0,598.5 L1313.2,599.9 L1309.2,601.3 L1305.3,602.6 L1301.4,603.8 L1297.5,605.0 L1293.5,606.0 L1289.6,607.0 L1285.6,608.0 L1281.5,608.8 L1277.5,609.6 L1273.4,610.4 L1269.3,611.2 L1265.3,612.0 L1261.2,612.8 L1257.2,613.6 L1253.2,614.4 L1249.2,615.4 L1245.3,616.4 L1241.4,617.5 L1237.6,618.7 L1233.8,620.0 L1230.1,621.6 L1226.4,623.4 L1222.7,625.3 L1219.1,627.4 L1215.6,629.6 L1212.2,631.9 L1208.9,634.2 L1205.6,636.6 L1202.5,639.2 L1199.4,642.0 L1196.4,644.8 L1193.4,647.7 L1190.6,650.6 L1187.8,653.6 L1185.1,656.6 L1182.4,659.8 L1179.8,663.0 L1177.3,666.2 L1174.9,669.5 L1172.5,672.8 L1170.3,676.2 L1168.1,679.6 L1165.9,683.1 L1163.8,686.6 L1161.8,690.2 L1159.8,693.8 L1157.8,697.4 L1155.9,701.0 L1154.0,704.6 L1152.0,708.2 L1150.1,711.8 L1148.2,715.5 L1146.4,719.1 L1144.6,722.8 L1142.7,726.4 L1140.9,730.1 L1139.1,733.8 L1137.3,737.5 L1135.5,741.1 L1133.7,744.8 L1131.9,748.5 L1130.2,752.2 L1128.4,755.9 L1126.6,759.5 L1124.9,763.2 L1123.1,766.9 L1121.3,770.6 L1119.6,774.3 L1117.8,778.0 L1116.0,781.7 L1114.2,785.4 L1112.4,789.0 L1110.6,792.7 L1108.8,796.4 L1106.9,800.0 L1105.1,803.7 L1103.3,807.3 L1101.4,811.0 L1099.6,814.6 L1097.7,818.3 L1095.9,821.9 L1094.0,825.6 L1092.1,829.2 L1090.3,832.8 L1088.4,836.5 L1086.6,840.1 L1084.7,843.8 L1082.8,847.4 L1080.9,851.1 L1079.0,854.7 L1077.1,858.3 L1075.1,861.9 L1073.1,865.4 L1071.1,869.0 L1069.1,872.5 L1067.0,876.0 L1064.9,879.6 L1062.7,883.0 L1060.5,886.5 L1058.3,890.0 L1056.0,893.4 L1053.7,896.7 L1051.4,900.1 L1049.0,903.5 L1046.7,907.0 L1044.2,910.4 L1041.7,913.7 L1039.1,916.8 L1036.3,919.6 L1033.3,922.2 L1030.0,924.9 L1026.5,927.6 L1022.8,929.9 L1019.1,931.5 L1015.3,932.2 L1011.5,931.8 L1007.4,930.9 L1003.4,929.4 L999.5,927.7 L995.9,926.0 L992.6,923.9 L989.5,921.3 L986.6,918.3 L983.7,915.1 L981.0,911.9 L978.4,908.8 L975.9,905.6 L973.5,902.3 L971.2,898.9 L968.9,895.5 L966.7,892.0 L964.5,888.5 L962.3,885.0 L960.2,881.6 L958.1,878.1 L956.1,874.5 L954.1,870.9 L952.1,867.4 L950.2,863.7 L948.2,860.1 L946.3,856.5 L944.3,853.0 L942.3,849.4 L940.3,845.8 L938.2,842.3 L936.2,838.7 L934.2,835.1 L932.2,831.6 L930.1,828.0 L928.0,824.5 L925.8,821.1 L923.6,817.7 L921.3,814.3 L918.9,811.0 L916.5,807.6 L914.0,804.4 L911.4,801.1 L908.8,798.0 L906.1,794.9 L903.3,792.0 L900.5,789.1 L897.6,786.1 L894.5,783.3 L891.4,780.5 L888.2,777.9 L884.9,775.4 L881.6,773.2 L878.1,771.3 L874.5,769.6 L870.8,768.0 L866.9,766.5 L863.0,765.1 L859.1,763.7 L855.2,762.3 L851.3,760.9 L847.5,759.5 L843.7,758.1 L839.8,756.7 L835.9,755.4 L832.0,754.1 L828.1,752.9 L824.2,751.7 L820.3,750.6 L816.3,749.5 L812.3,748.6 L808.3,747.9 L804.3,747.4 L800.2,747.0 L796.1,746.5 L792.0,746.1 L788.0,745.5 L784.0,744.8 L779.9,744.0 L775.9,743.3 L771.8,742.8 L767.8,742.6 L763.7,742.6 L759.6,742.5 L755.5,742.5 L751.4,742.4 L747.3,742.2 L743.2,741.9 L739.1,741.5 L735.1,740.9 L731.0,740.2 L727.1,739.5 L723.2,738.3 L719.3,736.9 L715.4,735.4 L711.7,733.8 L708.0,732.1 L704.4,730.2 L700.8,728.1 L697.3,725.9 L693.9,723.7 L690.4,721.5 L687.0,719.2 L683.7,716.9 L680.3,714.5 L677.0,712.1 L673.6,709.8 L670.1,707.7 L666.6,705.7 L663.0,703.7 L659.3,701.8 L655.6,700.1 L651.8,698.6 L647.9,697.3 L644.0,696.0 L640.0,694.8 L636.0,693.9 L632.0,693.3 L627.9,693.2 L623.9,693.1 L619.8,693.0 L615.7,693.0 L611.6,693.0 L607.5,693.0 L603.4,693.3 L599.3,693.7 L595.3,694.2 L591.2,694.8 L587.1,695.4 L583.1,696.0 L579.0,696.6 L575.0,697.2 L570.9,697.8 L566.9,698.5 L562.8,699.2 L558.8,700.0 L554.8,700.8 L550.9,701.7 L547.0,702.8 L543.1,704.1 L539.2,705.4 L535.3,706.9 L531.5,708.4 L527.7,709.9 L523.9,711.5 L520.2,713.1 L516.5,714.8 L512.8,716.5 L509.1,718.4 L505.5,720.3 L501.9,722.2 L498.3,724.2 L494.7,726.1 L491.1,728.1 L487.5,730.1 L483.9,732.1 L480.4,734.1 L476.8,736.2 L473.3,738.2 L469.8,740.3 L466.3,742.5 L462.8,744.6 L459.4,746.8 L455.9,749.0 L452.5,751.2 L449.1,753.5 L445.7,755.8 L442.3,758.1 L438.9,760.4 L435.6,762.7 L432.2,765.1 L428.9,767.5 L425.6,769.9 L422.3,772.3 L419.0,774.7 L415.8,777.2 L412.5,779.7 L409.2,782.2 L406.0,784.6 L402.7,787.1 L399.4,789.5 L396.1,791.9 L392.8,794.3 L389.5,796.7 L386.1,799.1 L382.8,801.5 L379.5,803.9 L376.2,806.4 L373.0,808.8 L369.7,811.2 L366.4,813.7" stroke="#46327e"/>
<path d="M366.4,810.4 L366.4,806.3 L366.4,802.3 L366.4,798.2 L366.4,794.1 L366.4,790.1 L366.4,786.0 L366.4,781.9 L366.4,777.9 L366.5,773.8 L366.5,769.7 L366.5,765.7 L366.5,761.6 L366.5,757.5 L366.5,753.5 L366.5,749.4 L366.6,745.3 L366.6,741.3 L366.6,737.2 L366.6,733.1 L366.7,729.1 L366.7,725.0 L366.7,720.9 L366.8,716.9 L366.8,712.8 L366.9,708.7 L366.9,704.7 L367.0,700.6 L367.1,696.6 L367.2,692.5 L367.5,688.4 L367.7,684.3 L368.1,680.2 L368.5,676.2 L368.9,672.2 L369.4,668.2 L370.2,664.3 L371.3,660.4 L372.7,656.6 L374.3,652.8 L375.9,649.0 L377.7,645.2 L379.4,641.5 L381.0,637.8 L382.7,634.1 L384.5,630.4 L386.3,626.7 L388.2,623.1 L390.2,619.5 L392.3,616.1 L394.5,612.7 L396.8,609.5 L399.3,606.2 L401.9,603.1 L404.6,600.0 L407.4,597.0 L410.2,594.0 L413.0,591.1 L415.9,588.2 L418.9,585.4 L422.0,582.8 L425.2,580.3 L428.5,578.1 L432.0,575.9 L435.5,573.9 L439.1,572.0 L442.8,570.1 L446.5,568.4 L450.2,566.7 L453.9,565.1 L457.6,563.5 L461.4,561.9 L465.2,560.4 L469.0,558.9 L472.8,557.6 L476.7,556.2 L480.6,555.0 L484.4,553.8 L488.3,552.7 L492.2,551.6 L496.2,550.5 L500.1,549.5 L504.1,548.5 L508.0,547.6 L512.0,546.7 L516.0,545.9 L520.0,545.1 L524.0,544.5 L528.0,543.8 L532.0,543.2 L536.0,542.6 L540.1,542.1 L544.1,541.6 L548.2,541.1 L552.2,540.7 L556.3,540.3 L560.3,539.9 L564.4,539.6 L568.4,539.3 L572.5,539.1 L576.5,538.9 L580.6,538.8 L584.7,538.6 L588.7,538.4 L592.8,538.3 L596.9,538.0 L600.9,537.8 L605.0,537.5 L609.0,537.1 L613.0,536.7 L617.1,536.1 L621.1,535.5 L625.1,534.9 L629.1,534.3 L633.2,533.6 L637.2,533.0 L641.2,532.3 L645.2,531.6 L649.2,530.9 L653.2,530.1 L657.2,529.3 L661.2,528.5 L665.1,527.7 L669.1,526.9 L673.1,526.1 L677.1,525.4 L681.2,524.8 L685.2,524.2 L689.2,523.6 L693.2,523.0 L697.3,522.5 L701.3,521.9 L705.3,521.4 L709.4,521.0 L713.4,520.6 L717.5,520.2 L721.5,519.9 L725.6,519.6 L729.6,519.4 L733.7,519.1 L737.7,518.9 L741.8,518.7 L745.9,518.5 L749.9,518.4 L754.0,518.2 L758.1,518.1 L762.1,517.9 L766.2,517.8 L770.3,517.7 L774.3,517.7 L778.4,517.6 L782.5,517.5 L786.5,517.4 L790.6,517.3 L794.7,517.2 L798.7,517.1 L802.7,516.8 L806.8,516.3 L810.8,515.7 L814.8,515.0 L818.8,514.2 L822.8,513.4 L826.8,512.6 L830.8,511.6 L834.7,510.6 L838.6,509.4 L842.5,508.2 L846.3,506.9 L850.1,505.4 L853.9,503.8 L857.6,502.1 L861.2,500.4 L864.8,498.5 L868.3,496.4 L871.8,494.3 L875.2,492.1 L878.6,489.9 L882.1,487.7 L885.5,485.6 L889.0,483.4 L892.4,481.2 L895.8,478.9 L899.1,476.6 L902.4,474.2 L905.6,471.7 L908.7,469.0 L911.8,466.4 L914.9,463.8 L918.1,461.3 L921.5,459.0 L924.8,456.7 L928.3,454.5 L931.8,452.4 L935.3,450.4 L938.9,448.5 L942.5,446.8 L946.3,445.1 L950.0,443.5 L953.8,442.0 L957.7,440.7 L961.6,439.6 L965.5,438.7 L969.5,438.0 L973.6,437.3 L977.6,436.5 L981.5,435.6 L985.5,434.6 L989.4,433.5 L993.3,432.3 L997.1,431.0 L1000.9,429.6 L1004.7,428.1 L1008.3,426.3 L1012.0,424.4 L1015.6,422.5 L1019.1,420.5 L1022.6,418.5 L1026.2,416.4 L1029.7,414.3 L1033.1,412.1 L1036.5,409.8 L1039.7,407.4 L1042.9,405.0 L1045.9,402.3 L1049.0,399.6 L1051.9,396.8 L1054.8,393.9 L1057.7,391.0 L1060.5,388.0 L1063.3,385.0 L1066.0,382.0 L1068.8,379.1 L1071.5,376.0 L1074.2,373.0 L1076.8,369.9 L1079.4,366.8 L1082.0,363.6 L1084.6,360.4 L1087.1,357.2 L1089.6,354.0 L1092.1,350.8 L1094.5,347.5 L1096.9,344.3 L1099.2,340.9 L1101.5,337.6 L1103.7,334.2 L1106.0,330.8 L1108.2,327.4 L1110.5,324.0 L1112.7,320.6 L1115.0,317.2 L1117.3,313.9 L1119.6,310.5 L1121.9,307.2 L1124.2,303.8 L1126.6,300.4 L1128.9,297.1 L1131.2,293.8 L1133.6,290.5 L1136.1,287.3 L1138.6,284.1 L1141.2,281.0 L1143.8,277.9 L1146.5,274.7 L1149.3,271.7 L1152.1,268.7 L1155.0,265.8 L1158.1,263.2 L1161.2,260.8 L1164.6,258.5 L1168.1,256.3 L1171.8,254.5 L1175.6,253.3 L1179.5,252.3 L1183.6,251.4 L1187.6,250.9 L1191.7,250.7 L1195.7,251.1 L1199.8,252.1 L1203.7,253.3 L1207.5,254.6 L1211.1,256.1 L1214.5,258.1 L1217.9,260.4 L1221.1,263.0 L1224.3,265.8 L1227.4,268.6 L1230.5,271.4 L1233.4,274.1 L1236.3,276.9 L1239.1,279.8 L1241.9,282.8 L1244.6,285.9 L1247.3,289.0 L1249.9,292.1 L1252.6,295.2 L1255.2,298.3 L1257.9,301.4 L1260.5,304.5 L1263.1,307.6 L1265.7,310.8 L1268.3,313.9 L1270.8,317.1 L1273.4,320.2 L1276.0,323.3 L1278.6,326.4 L1281.3,329.5 L1284.0,332.6 L1286.7,335.6 L1289.3,338.7 L1292.1,341.7 L1294.8,344.8 L1297.5,347.7 L1300.3,350.7 L1303.2,353.6 L1306.1,356.4 L1309.0,359.3 L1311.9,362.1 L1314.9,364.8 L1318.0,367.6 L1321.0,370.2 L1324.1,372.9 L1327.3,375.4 L1330.5,377.9 L1333.7,380.4 L1337.0,382.8 L1340.3,385.1 L1343.7,387.4 L1347.1,389.7 L1350.5,391.9 L1354.0,394.0 L1357.4,396.2 L1360.9,398.4 L1364.4,400.4 L1368.0,402.3 L1371.7,403.9 L1376.4,405.1 L1381.5,406.2 L1385.7,407.2 L1387.9,408.7 L1388.1,410.8 L1388.2,413.7 L1388.3,417.4 L1388.4,421.6 L1388.4,426.2 L1388.4,431.0 L1388.5,435.8 L1388.5,440.5 L1388.5,444.8 L1388.5,448.9 L1388.5,452.9 L1388.4,457.0 L1388.3,461.1 L1388.3,465.2 L1388.2,469.2 L1388.1,473.3 L1387.9,477.3 L1387.5,481.3 L1386.9,485.4 L1386.2,489.4 L1385.4,493.4 L1384.6,497.4 L1383.8,501.4 L1383.1,505.4 L1382.4,509.4 L1381.7,513.4 L1380.9,517.4 L1380.2,521.4 L1379.3,525.4 L1378.4,529.4 L1377.4,533.3 L1376.3,537.2 L1375.0,541.1 L1373.6,544.9 L1372.0,548.7 L1370.3,552.4 L1368.5,556.0 L1366.5,559.4 L1364.2,562.8 L1361.7,566.1 L1359.0,569.2 L1356.2,572.2 L1353.4,575.1 L1350.5,577.9 L1347.4,580.7 L1344.3,583.3 L1341.0,585.9 L1337.7,588.3 L1334.2,590.4 L1330.8,592.4 L1327.2,594.2 L1323.6,595.8 L1319.8,597.4 L1316.0,598.9 L1312.1,600.3 L1308.2,601.6 L1304.3,602.9 L1300.4,604.1 L1296.5,605.2 L1292.6,606.3 L1288.6,607.3 L1284.7,608.2 L1280.7,609.0 L1276.6,609.8 L1272.6,610.6 L1268.6,611.4 L1264.5,612.2 L1260.5,612.9 L1256.5,613.8 L1252.5,614.6 L1248.6,615.6 L1244.7,616.6 L1240.8,617.7 L1237.0,618.9 L1233.3,620.2 L1229.5,621.7 L1225.8,623.4 L1222.1,625.3 L1218.5,627.3 L1214.9,629.4 L1211.4,631.5 L1208.1,633.8 L1204.8,636.0 L1201.7,638.5 L1198.6,641.1 L1195.5,643.9 L1192.6,646.8 L1189.7,649.7 L1186.9,652.7 L1184.2,655.8 L1181.6,658.8 L1179.0,661.9 L1176.5,665.1 L1174.0,668.4 L1171.6,671.7 L1169.3,675.1 L1167.0,678.5 L1164.8,681.9 L1162.7,685.3 L1160.7,688.8 L1158.7,692.3 L1156.8,695.9 L1154.9,699.5 L1153.0,703.2 L1151.2,706.8 L1149.4,710.5 L1147.6,714.1 L1145.7,717.8 L1143.9,721.4 L1142.1,725.0 L1140.2,728.7 L1138.4,732.3 L1136.6,735.9 L1134.8,739.6 L1133.0,743.2 L1131.2,746.9 L1129.4,750.5 L1127.7,754.2 L1125.9,757.8 L1124.1,761.5 L1122.3,765.1 L1120.5,768.8 L1118.7,772.4 L1116.9,776.1 L1115.1,779.7 L1113.3,783.4 L1111.5,787.0 L1109.7,790.7 L1107.9,794.3 L1106.1,797.9 L1104.2,801.6 L1102.4,805.2 L1100.5,808.8 L1098.6,812.4 L1096.8,816.0 L1094.9,819.6 L1093.0,823.2 L1091.1,826.8 L1089.2,830.4 L1087.3,834.0 L1085.4,837.6 L1083.5,841.2 L1081.6,844.8 L1079.7,848.4 L1077.8,852.0 L1075.9,855.6 L1074.0,859.2 L1072.1,862.8 L1070.1,866.3 L1068.1,869.9 L1066.0,873.3 L1063.9,876.8 L1061.7,880.2 L1059.4,883.6 L1057.1,887.0 L1054.8,890.3 L1052.4,893.6 L1050.0,896.9 L1047.5,900.1 L1045.0,903.3 L1042.5,906.6 L1040.0,910.0 L1037.4,913.4 L1034.8,916.5 L1031.9,919.3 L1028.8,921.4 L1025.3,923.4 L1021.5,925.3 L1017.5,926.8 L1013.5,927.8 L1009.7,927.9 L1005.9,927.1 L1002.0,925.6 L998.2,923.6 L994.5,921.3 L991.1,918.9 L988.0,916.7 L985.1,914.1 L982.3,911.2 L979.6,908.1 L977.0,904.8 L974.5,901.4 L972.1,898.0 L969.7,894.6 L967.4,891.3 L965.2,887.9 L963.1,884.5 L961.0,881.0 L959.0,877.4 L957.0,873.8 L955.1,870.2 L953.1,866.7 L951.1,863.1 L949.1,859.5 L947.1,856.0 L945.2,852.4 L943.2,848.9 L941.2,845.3 L939.3,841.8 L937.3,838.2 L935.3,834.7 L933.3,831.1 L931.2,827.6 L929.1,824.1 L927.1,820.6 L925.0,817.1 L922.9,813.6 L920.7,810.1 L918.5,806.7 L916.1,803.4 L913.7,800.2 L911.1,797.2 L908.2,794.3 L905.3,791.5 L902.2,788.7 L899.2,786.0 L896.1,783.4 L893.0,780.7 L889.9,778.0 L886.7,775.4 L883.4,773.0 L880.0,771.0 L876.4,769.3 L872.7,767.7 L868.9,766.3 L865.0,764.9 L861.1,763.7 L857.2,762.4 L853.3,761.1 L849.4,759.8 L845.6,758.4 L841.8,757.0 L837.9,755.6 L834.1,754.3 L830.2,753.1 L826.3,751.9 L822.4,750.8 L818.5,749.7 L814.5,748.8 L810.5,748.1 L806.5,747.6 L802.5,747.2 L798.4,746.8 L794.3,746.5 L790.3,746.0 L786.3,745.4 L782.3,744.6 L778.2,743.9 L774.2,743.3 L770.2,743.0 L766.1,743.0 L762.1,743.0 L758.0,743.0 L753.9,743.0 L749.9,743.0 L745.8,742.9 L741.7,742.6 L737.6,742.1 L733.6,741.6 L729.6,740.9 L725.7,740.1 L721.8,738.9 L718.0,737.4 L714.2,735.8 L710.4,734.2 L706.8,732.5 L703.3,730.5 L699.8,728.4 L696.3,726.2 L692.9,723.9 L689.5,721.7 L686.2,719.4 L682.9,717.0 L679.6,714.5 L676.3,712.1 L673.0,709.8 L669.5,707.7 L666.0,705.7 L662.4,703.7 L658.8,701.7 L655.1,700.0 L651.4,698.5 L647.6,697.2 L643.7,695.9 L639.7,694.7 L635.7,693.7 L631.7,693.1 L627.7,692.9 L623.7,692.8 L619.6,692.8 L615.5,692.7 L611.4,692.7 L607.4,692.7 L603.3,693.0 L599.3,693.4 L595.2,693.9 L591.2,694.5 L587.2,695.1 L583.1,695.6 L579.1,696.2 L575.1,696.8 L571.0,697.4 L567.0,698.0 L563.0,698.7 L559.0,699.5 L555.0,700.3 L551.1,701.2 L547.2,702.3 L543.3,703.5 L539.5,704.8 L535.6,706.2 L531.8,707.7 L528.0,709.2 L524.2,710.7 L520.5,712.3 L516.8,713.9 L513.1,715.7 L509.5,717.5 L505.9,719.3 L502.3,721.2 L498.7,723.2 L495.1,725.1 L491.5,727.0 L487.9,729.0 L484.4,731.0 L480.8,733.0 L477.3,735.0 L473.8,737.0 L470.3,739.1 L466.8,741.2 L463.4,743.4 L459.9,745.5 L456.5,747.7 L453.1,749.9 L449.7,752.1 L446.3,754.4 L442.9,756.7 L439.6,759.0 L436.2,761.3 L432.9,763.6 L429.6,765.9 L426.2,768.3 L422.9,770.7 L419.7,773.0 L416.4,775.5 L413.1,777.9 L409.8,780.3 L406.5,782.7 L403.2,785.0 L399.9,787.4 L396.6,789.7 L393.3,792.1 L389.9,794.4 L386.6,796.7 L383.2,799.0 L379.9,801.3 L376.5,803.6 L373.2,805.9 L369.8,808.1 L366.4,810.4" stroke="#440154"/>
<path d="M366.4,822.6 L366.4,818.6 L366.4,814.5 L366.4,810.5 L366.4,806.4 L366.4,802.4 L366.4,798.3 L366.4,794.3 L366.4,790.2 L366.4,786.2 L366.4,782.1 L366.5,778.1 L366.5,774.0 L366.5,770.0 L366.5,765.9 L366.5,761.9 L366.5,757.8 L366.5,753.8 L366.6,749.7 L366.6,745.7 L366.6,741.6 L366.7,737.6 L366.8,733.5 L366.8,729.5 L366.9,725.4 L367.0,721.4 L367.1,717.3 L367.2,713.3 L367.3,709.2 L367.4,705.2 L367.5,701.1 L367.6,697.1 L367.8,693.0 L368.0,689.0 L368.3,684.9 L368.7,681.0 L369.3,677.0 L370.1,673.0 L371.1,669.1 L372.3,665.2 L373.6,661.3 L374.9,657.4 L376.4,653.5 L377.8,649.7 L379.3,646.0 L380.8,642.2 L382.3,638.5 L384.0,634.8 L385.8,631.2 L387.6,627.5 L389.6,623.9 L391.7,620.3 L393.8,616.8 L396.0,613.4 L398.3,610.1 L400.6,606.9 L403.0,603.7 L405.6,600.5 L408.4,597.4 L411.2,594.3 L414.2,591.5 L417.3,588.9 L420.5,586.6 L423.8,584.7 L427.2,582.8 L430.8,581.1 L434.5,579.5 L438.3,577.9 L442.2,576.5 L446.1,575.1 L450.0,573.8 L454.0,572.5 L457.9,571.2 L461.7,570.0 L465.6,568.8 L469.5,567.6 L473.3,566.4 L477.2,565.3 L481.1,564.3 L485.1,563.2 L489.0,562.2 L492.9,561.2 L496.9,560.2 L500.8,559.3 L504.7,558.3 L508.7,557.4 L512.6,556.5 L516.6,555.5 L520.5,554.6 L524.5,553.8 L528.4,552.9 L532.4,552.1 L536.4,551.4 L540.4,550.7 L544.4,550.1 L548.4,549.5 L552.4,548.9 L556.4,548.4 L560.4,547.9 L564.4,547.4 L568.5,547.0 L572.5,546.5 L576.5,546.1 L580.5,545.6 L584.6,545.2 L588.6,544.7 L592.6,544.3 L596.7,543.9 L600.7,543.4 L604.7,542.9 L608.7,542.4 L612.7,541.9 L616.8,541.4 L620.8,540.9 L624.8,540.3 L628.8,539.8 L632.8,539.2 L636.8,538.5 L640.8,537.9 L644.8,537.1 L648.7,536.3 L652.7,535.5 L656.6,534.6 L660.6,533.7 L664.5,532.8 L668.5,531.9 L672.4,531.0 L676.4,530.2 L680.4,529.4 L684.4,528.7 L688.4,528.0 L692.3,527.3 L696.3,526.6 L700.3,525.9 L704.3,525.2 L708.3,524.6 L712.3,524.0 L716.3,523.5 L720.4,523.0 L724.4,522.5 L728.4,522.0 L732.4,521.6 L736.5,521.2 L740.5,520.8 L744.5,520.5 L748.6,520.1 L752.6,519.7 L756.6,519.3 L760.7,518.9 L764.7,518.6 L768.7,518.2 L772.8,517.9 L776.8,517.5 L780.9,517.2 L784.9,516.8 L788.9,516.4 L793.0,515.9 L797.0,515.4 L800.9,514.9 L804.9,514.1 L808.8,513.1 L812.7,512.1 L816.7,510.9 L820.6,509.8 L824.5,508.8 L828.4,507.7 L832.2,506.5 L836.1,505.3 L840.0,504.0 L843.8,502.7 L847.6,501.3 L851.3,499.8 L855.1,498.2 L858.8,496.6 L862.4,494.8 L866.0,493.0 L869.6,491.1 L873.1,489.1 L876.6,487.0 L880.1,484.9 L883.6,482.8 L887.0,480.7 L890.4,478.5 L893.8,476.3 L897.1,474.0 L900.5,471.7 L903.7,469.3 L907.0,466.9 L910.2,464.4 L913.4,461.9 L916.6,459.4 L919.9,457.1 L923.2,454.7 L926.5,452.4 L929.9,450.1 L933.3,447.8 L936.7,445.7 L940.3,443.9 L943.9,442.1 L947.6,440.5 L951.4,439.0 L955.2,437.6 L959.1,436.3 L962.9,435.2 L966.9,434.2 L970.8,433.3 L974.8,432.4 L978.7,431.4 L982.6,430.2 L986.4,429.0 L990.3,427.7 L994.1,426.3 L997.9,424.9 L1001.6,423.3 L1005.3,421.6 L1008.9,419.8 L1012.5,417.9 L1016.1,416.0 L1019.7,414.2 L1023.3,412.4 L1027.0,410.7 L1030.7,409.0 L1034.3,407.3 L1038.0,405.5 L1041.6,403.6 L1045.1,401.7 L1048.7,399.7 L1052.3,397.7 L1055.9,395.7 L1059.3,393.5 L1062.7,391.3 L1065.9,388.9 L1068.9,386.4 L1071.8,383.7 L1074.6,380.9 L1077.4,377.9 L1080.0,374.8 L1082.7,371.6 L1085.2,368.4 L1087.8,365.2 L1090.3,362.0 L1092.8,358.8 L1095.4,355.7 L1097.8,352.4 L1100.2,349.2 L1102.6,345.9 L1105.0,342.7 L1107.4,339.4 L1109.7,336.1 L1112.1,332.8 L1114.6,329.5 L1117.0,326.2 L1119.5,322.9 L1121.9,319.5 L1124.3,316.2 L1126.7,312.9 L1129.1,309.5 L1131.5,306.2 L1133.9,302.9 L1136.3,299.6 L1138.8,296.3 L1141.3,293.1 L1143.9,289.9 L1146.5,286.7 L1149.1,283.5 L1151.8,280.3 L1154.5,277.2 L1157.4,274.3 L1156.8,271.4 L1159.9,268.5 L1163.1,265.5 L1166.4,262.7 L1169.8,260.3 L1173.5,258.5 L1177.4,257.3 L1181.6,256.1 L1185.8,255.3 L1189.9,254.8 L1193.9,255.0 L1197.9,255.8 L1201.9,257.1 L1205.7,258.6 L1209.2,260.2 L1212.6,262.1 L1215.9,264.4 L1219.0,267.0 L1222.1,269.8 L1225.0,272.8 L1227.9,275.8 L1230.8,278.8 L1233.6,281.7 L1236.3,284.6 L1239.0,287.7 L1241.6,290.8 L1244.1,293.9 L1246.7,297.1 L1249.2,300.3 L1251.7,303.5 L1254.2,306.7 L1256.8,309.8 L1259.4,312.9 L1262.0,316.0 L1264.6,319.2 L1267.1,322.3 L1269.7,325.4 L1272.3,328.5 L1274.9,331.6 L1277.5,334.7 L1280.2,337.8 L1282.8,340.8 L1285.5,343.9 L1288.2,347.0 L1290.8,350.0 L1293.6,353.0 L1296.3,356.0 L1299.1,358.9 L1301.9,361.9 L1304.7,364.7 L1307.6,367.5 L1310.5,370.3 L1313.5,373.1 L1316.5,375.9 L1319.5,378.6 L1322.6,381.2 L1325.7,383.8 L1328.9,386.3 L1332.1,388.8 L1335.3,391.2 L1338.6,393.6 L1341.9,396.0 L1345.3,398.2 L1348.7,400.4 L1352.1,402.5 L1355.6,404.5 L1359.2,406.5 L1362.8,408.4 L1366.5,410.1 L1370.2,411.7 L1374.4,413.0 L1379.5,414.0 L1384.2,414.9 L1387.4,416.1 L1388.0,417.8 L1388.1,420.3 L1388.2,423.6 L1388.3,427.5 L1388.3,431.9 L1388.3,436.6 L1388.4,441.4 L1388.4,446.2 L1388.4,450.8 L1388.4,455.1 L1388.4,459.1 L1388.3,463.2 L1388.1,467.2 L1387.9,471.3 L1387.7,475.3 L1387.5,479.4 L1387.3,483.4 L1387.0,487.5 L1386.7,491.5 L1386.4,495.6 L1385.9,499.6 L1385.4,503.6 L1384.8,507.6 L1384.0,511.6 L1383.2,515.5 L1382.2,519.5 L1381.2,523.4 L1380.2,527.4 L1379.1,531.2 L1378.0,535.1 L1376.7,539.0 L1375.3,542.8 L1373.8,546.6 L1372.1,550.3 L1370.4,553.9 L1368.4,557.4 L1366.2,560.8 L1363.8,564.1 L1361.3,567.4 L1358.6,570.5 L1355.9,573.4 L1353.1,576.3 L1350.1,579.1 L1347.1,581.9 L1343.9,584.5 L1340.6,587.0 L1337.3,589.3 L1333.9,591.3 L1330.4,593.1 L1326.8,594.8 L1323.1,596.3 L1319.3,597.8 L1315.4,599.2 L1311.5,600.5 L1307.6,601.7 L1303.7,602.9 L1299.8,604.1 L1295.9,605.2 L1292.0,606.3 L1288.1,607.3 L1284.1,608.2 L1280.1,609.1 L1276.1,609.9 L1272.2,610.7 L1268.2,611.6 L1264.2,612.4 L1260.2,613.3 L1256.2,614.2 L1252.3,615.1 L1248.4,616.1 L1244.5,617.2 L1240.7,618.4 L1236.9,619.6 L1233.1,621.0 L1229.3,622.5 L1225.5,624.0 L1221.7,625.7 L1218.0,627.4 L1214.3,629.2 L1210.7,631.2 L1207.3,633.2 L1203.9,635.2 L1200.7,637.5 L1197.6,640.0 L1194.5,642.7 L1191.5,645.5 L1188.6,648.4 L1185.8,651.4 L1183.0,654.4 L1180.3,657.4 L1177.7,660.5 L1175.2,663.6 L1172.7,666.8 L1170.2,670.1 L1167.9,673.4 L1165.6,676.8 L1163.3,680.1 L1161.2,683.5 L1159.1,687.0 L1157.1,690.5 L1155.1,694.0 L1153.2,697.6 L1151.3,701.1 L1149.4,704.7 L1147.5,708.4 L1145.7,712.0 L1143.9,715.6 L1142.0,719.2 L1140.2,722.8 L1138.3,726.4 L1136.5,730.0 L1134.7,733.7 L1132.9,737.3 L1131.1,740.9 L1129.3,744.5 L1127.5,748.2 L1125.7,751.8 L1123.9,755.4 L1122.1,759.1 L1120.3,762.7 L1118.5,766.3 L1116.7,769.9 L1114.9,773.6 L1113.1,777.2 L1111.3,780.8 L1109.5,784.4 L1107.6,788.1 L1105.8,791.7 L1104.0,795.3 L1102.2,798.9 L1100.3,802.5 L1098.5,806.1 L1096.6,809.7 L1094.7,813.3 L1092.9,816.9 L1091.0,820.5 L1089.1,824.1 L1087.2,827.6 L1085.3,831.2 L1083.3,834.8 L1081.4,838.3 L1079.4,841.9 L1077.5,845.4 L1075.6,849.0 L1073.6,852.6 L1071.7,856.1 L1069.7,859.6 L1067.6,863.2 L1065.6,866.6 L1063.5,870.1 L1061.3,873.5 L1059.0,876.8 L1056.7,880.1 L1054.4,883.4 L1051.9,886.7 L1049.5,889.9 L1047.0,893.1 L1044.4,896.3 L1041.9,899.4 L1039.3,902.6 L1036.7,906.0 L1034.1,909.3 L1031.3,912.3 L1028.3,914.7 L1025.0,916.5 L1021.3,918.3 L1017.3,919.8 L1013.2,920.8 L1009.4,921.0 L1005.5,920.3 L1001.6,918.9 L997.8,917.1 L994.1,915.0 L990.6,912.8 L987.4,910.7 L984.2,908.3 L981.2,905.6 L978.3,902.7 L975.6,899.6 L972.9,896.4 L970.3,893.1 L967.8,889.9 L965.5,886.7 L963.3,883.4 L961.1,879.9 L959.1,876.5 L957.1,872.9 L955.1,869.3 L953.2,865.7 L951.2,862.2 L949.2,858.6 L947.2,855.1 L945.2,851.6 L943.2,848.0 L941.3,844.5 L939.3,840.9 L937.3,837.4 L935.3,833.9 L933.3,830.4 L931.2,826.9 L929.1,823.5 L927.0,820.0 L924.8,816.5 L922.6,813.1 L920.4,809.7 L918.0,806.4 L915.6,803.2 L913.1,800.1 L910.4,797.1 L907.5,794.3 L904.5,791.5 L901.4,788.8 L898.3,786.2 L895.2,783.7 L892.0,781.1 L888.7,778.5 L885.4,776.2 L882.0,774.0 L878.5,772.3 L874.8,770.7 L871.1,769.3 L867.2,768.0 L863.3,766.8 L859.4,765.6 L855.4,764.5 L851.5,763.4 L847.6,762.3 L843.7,761.3 L839.8,760.3 L835.8,759.3 L831.9,758.4 L827.9,757.5 L824.0,756.6 L820.0,755.6 L816.0,754.8 L812.1,754.2 L808.1,753.8 L804.0,753.5 L800.0,753.3 L795.9,753.1 L791.9,753.0 L787.8,753.0 L783.8,753.0 L779.7,753.0 L775.7,753.0 L771.6,753.0 L767.6,753.0 L763.5,753.0 L759.4,753.0 L755.4,753.0 L751.4,753.0 L747.3,752.9 L743.3,752.4 L739.3,751.5 L735.4,750.5 L731.5,749.4 L727.6,748.3 L723.7,747.0 L719.9,745.6 L716.2,743.9 L712.5,742.2 L708.9,740.4 L705.4,738.5 L702.0,736.3 L698.6,734.0 L695.3,731.7 L692.0,729.3 L688.6,727.1 L685.3,724.7 L682.0,722.3 L678.7,719.9 L675.4,717.6 L672.1,715.3 L668.7,713.2 L665.2,711.0 L661.7,708.9 L658.2,706.9 L654.6,705.0 L650.9,703.4 L647.2,701.9 L643.4,700.4 L639.5,699.1 L635.6,697.9 L631.6,697.2 L627.6,696.8 L623.6,696.5 L619.6,696.3 L615.5,696.1 L611.2,696.8 L609.0,698.5 L606.8,696.8 L603.3,696.3 L599.3,696.6 L595.3,697.2 L591.2,697.7 L587.2,698.4 L583.3,699.0 L579.3,699.8 L575.4,700.7 L571.5,701.8 L567.6,703.0 L563.7,704.3 L559.9,705.6 L556.0,707.0 L552.2,708.3 L548.4,709.7 L544.7,711.2 L540.9,712.8 L537.2,714.4 L533.5,716.1 L529.8,717.8 L526.2,719.6 L522.6,721.3 L519.0,723.2 L515.4,725.1 L511.8,727.0 L508.3,729.0 L504.8,731.0 L501.3,733.1 L497.8,735.2 L494.4,737.3 L490.9,739.4 L487.5,741.6 L484.2,743.9 L480.8,746.2 L477.5,748.5 L474.2,750.9 L470.9,753.2 L467.6,755.5 L464.2,757.7 L460.8,759.9 L457.3,762.0 L453.8,764.1 L450.3,766.1 L446.8,768.1 L443.3,770.1 L439.7,772.1 L436.2,774.1 L432.8,776.2 L429.4,778.4 L426.0,780.6 L422.7,782.9 L419.3,785.2 L416.0,787.6 L412.7,789.9 L409.5,792.3 L406.2,794.7 L402.9,797.0 L399.5,799.3 L396.2,801.7 L392.9,804.0 L389.6,806.3 L386.3,808.6 L383.0,811.0 L379.6,813.3 L376.3,815.6 L373.0,817.9 L369.7,820.3 L366.4,822.6" stroke="#ff8000"/>
<path d="M365.4,722.5 L365.4,719.0 L365.4,715.4 L365.4,711.9 L365.4,708.4 L365.4,704.9 L365.4,701.3 L365.4,697.8 L365.4,694.3 L365.5,690.7 L365.5,687.2 L365.6,683.7 L365.7,680.1 L365.8,676.6 L365.9,673.1 L366.1,669.5 L366.3,666.0 L366.4,662.5 L366.6,658.9 L366.8,655.4 L367.1,651.9 L367.3,648.4 L367.5,644.9 L367.8,641.4 L368.3,637.9 L368.9,634.4 L369.7,631.0 L370.6,627.5 L371.6,624.1 L372.6,620.8 L373.9,617.5 L375.4,614.3 L377.1,611.1 L378.9,608.1 L380.9,605.2 L383.0,602.5 L385.4,599.9 L387.9,597.4 L390.5,594.9 L393.1,592.5 L395.7,590.1 L398.4,587.8 L401.1,585.5 L403.9,583.3 L406.7,581.2 L409.5,579.1 L412.4,577.1 L415.3,575.1 L418.3,573.1 L421.2,571.3 L424.3,569.4 L427.3,567.6 L430.3,565.9 L433.4,564.1 L436.5,562.4 L439.6,560.7 L442.8,559.1 L445.9,557.5 L449.1,556.0 L452.3,554.5 L455.5,553.1 L458.8,551.7 L462.0,550.4 L465.3,549.1 L468.6,547.8 L471.9,546.5 L475.2,545.3 L478.5,544.1 L481.9,543.0 L485.2,541.9 L488.6,540.9 L492.0,539.9 L495.4,539.0 L498.8,538.1 L502.2,537.1 L505.6,536.2 L509.0,535.2 L512.4,534.2 L515.7,533.2 L519.1,532.1 L522.5,531.0 L525.8,529.9 L529.2,528.7 L532.5,527.5 L535.8,526.3 L539.1,525.0 L542.3,523.6 L545.5,522.2 L548.6,520.6 L551.8,518.9 L554.9,517.2 L557.9,515.4 L560.9,513.6 L563.9,511.7 L566.9,509.8 L569.7,507.8 L572.6,505.7 L575.4,503.6 L578.3,501.5 L581.2,499.5 L584.1,497.5 L587.1,495.7 L590.2,493.9 L593.2,492.1 L596.3,490.3 L599.3,488.5 L602.2,486.5 L605.0,484.4 L606.8,481.2 L609.0,480.1 L611.2,481.2 L614.0,478.9 L617.2,477.3 L620.4,475.9 L623.7,474.5 L627.0,473.2 L630.3,471.9 L633.5,470.6 L636.9,469.4 L640.2,468.1 L643.6,467.0 L647.0,466.1 L650.4,465.5 L653.8,464.6 L656.0,463.5 L658.2,464.6 L661.0,465.1 L664.5,465.3 L668.0,465.5 L671.5,465.8 L675.1,466.0 L678.6,466.3 L682.1,466.5 L685.6,466.8 L689.2,467.0 L692.7,467.3 L696.2,467.6 L699.7,468.0 L703.2,468.4 L706.6,469.1 L710.1,469.8 L713.5,470.6 L717.0,471.4 L720.4,472.1 L723.9,472.8 L727.4,473.5 L730.8,474.2 L734.3,474.9 L737.7,475.6 L741.2,476.2 L744.7,476.9 L748.1,477.6 L751.6,478.3 L755.1,478.9 L758.5,479.4 L762.0,479.9 L765.5,480.3 L769.0,480.7 L772.6,481.0 L776.1,481.3 L779.6,481.6 L783.1,481.8 L786.6,482.0 L790.2,482.2 L793.7,482.3 L797.2,482.4 L800.7,482.4 L804.3,482.3 L807.8,482.2 L811.3,482.1 L814.9,481.9 L818.4,481.7 L821.9,481.5 L825.4,481.1 L828.9,480.7 L832.4,480.2 L835.9,479.6 L839.4,479.1 L842.9,478.6 L846.3,478.0 L849.8,477.4 L853.3,476.8 L856.8,476.2 L860.2,475.6 L863.7,474.9 L867.2,474.3 L870.7,473.7 L874.1,473.0 L877.6,472.3 L881.0,471.6 L884.4,470.7 L887.8,469.7 L891.2,468.7 L894.6,467.7 L897.9,466.6 L901.3,465.6 L904.7,464.6 L908.1,463.6 L911.5,462.6 L914.9,461.6 L918.2,460.6 L921.6,459.5 L924.9,458.4 L928.3,457.2 L931.6,456.0 L934.9,454.8 L938.2,453.6 L941.5,452.4 L944.8,451.2 L948.2,450.0 L951.5,448.8 L954.8,447.7 L958.2,446.6 L961.5,445.5 L964.9,444.5 L968.3,443.5 L971.7,442.4 L975.1,441.4 L978.5,440.5 L981.9,439.5 L985.3,438.6 L988.7,437.7 L992.1,436.8 L995.5,436.0 L999.0,435.2 L1002.4,434.5 L1005.8,433.7 L1009.3,433.0 L1012.8,432.3 L1016.2,431.6 L1019.7,430.9 L1023.2,430.2 L1026.7,429.7 L1030.2,429.1 L1033.7,428.6 L1037.1,428.3 L1040.6,427.9 L1044.2,427.7 L1047.7,427.4 L1051.2,427.1 L1054.7,426.9 L1058.2,426.7 L1061.8,426.6 L1065.3,426.5 L1068.8,426.4 L1072.4,426.4 L1075.9,426.5 L1079.4,426.6 L1082.9,426.8 L1086.4,427.0 L1090.0,427.3 L1093.5,427.5 L1097.0,427.8 L1100.5,428.0 L1104.0,428.3 L1107.6,428.6 L1111.1,429.0 L1114.6,429.3 L1118.1,429.7 L1121.6,430.1 L1125.1,430.5 L1128.6,430.9 L1132.1,431.2 L1135.6,431.6 L1139.1,431.9 L1142.6,432.2 L1146.2,432.5 L1149.7,432.9 L1153.2,433.1 L1156.7,433.4 L1160.2,433.6 L1163.8,433.8 L1167.3,434.0 L1170.8,434.2 L1174.3,434.4 L1177.8,434.6 L1181.4,434.8 L1184.9,434.9 L1188.4,435.1 L1191.9,435.2 L1195.5,435.3 L1199.0,435.4 L1202.5,435.5 L1206.1,435.5 L1209.6,435.5 L1213.1,435.5 L1216.6,435.4 L1220.2,435.3 L1223.7,435.1 L1227.2,435.0 L1230.7,434.8 L1234.3,434.6 L1237.8,434.3 L1241.3,434.1 L1244.8,433.9 L1248.3,433.6 L1251.9,433.3 L1255.4,433.0 L1258.9,432.8 L1262.4,432.4 L1265.9,432.0 L1269.4,431.5 L1272.9,431.1 L1276.4,430.5 L1279.9,430.0 L1283.3,429.5 L1286.8,428.8 L1290.3,428.2 L1293.7,427.4 L1297.2,426.7 L1300.6,425.9 L1304.1,425.2 L1307.5,424.4 L1311.0,423.6 L1314.4,422.8 L1317.9,422.0 L1321.3,421.1 L1324.7,420.2 L1328.0,419.2 L1331.4,418.1 L1334.7,417.0 L1338.1,415.7 L1341.4,414.4 L1344.6,413.0 L1347.8,411.6 L1351.0,410.1 L1354.1,408.5 L1357.2,406.8 L1360.3,405.0 L1363.3,403.1 L1366.3,401.1 L1369.1,399.1 L1371.8,396.9 L1374.6,394.6 L1377.3,392.2 L1379.8,389.7 L1382.0,387.0 L1384.0,383.9 L1386.0,379.8 L1387.5,376.3 L1388.0,375.2 L1388.0,376.0 L1388.1,377.7 L1388.1,380.3 L1388.1,383.5 L1388.1,387.3 L1388.2,391.5 L1388.2,396.0 L1388.2,400.6 L1388.2,405.3 L1388.2,409.9 L1388.2,414.3 L1388.2,418.3 L1388.2,421.9 L1388.1,425.4 L1388.1,428.9 L1387.9,432.5 L1387.8,436.0 L1387.6,439.5 L1387.4,443.0 L1387.0,446.5 L1386.5,450.0 L1386.0,453.5 L1385.5,457.0 L1384.9,460.5 L1384.3,463.9 L1383.7,467.4 L1383.0,470.9 L1382.4,474.4 L1381.8,477.8 L1381.2,481.3 L1380.5,484.8 L1379.9,488.3 L1379.2,491.7 L1378.5,495.2 L1377.7,498.6 L1376.9,502.1 L1376.1,505.5 L1375.1,508.9 L1374.2,512.3 L1373.1,515.6 L1372.0,519.0 L1370.8,522.4 L1369.6,525.7 L1368.3,528.9 L1367.0,532.2 L1365.6,535.4 L1364.1,538.6 L1362.5,541.8 L1360.8,545.0 L1359.1,548.1 L1357.3,551.2 L1355.4,554.1 L1353.4,556.9 L1351.3,559.7 L1349.1,562.4 L1346.7,565.1 L1344.2,567.7 L1341.6,570.1 L1339.0,572.5 L1336.3,574.8 L1333.5,576.9 L1330.7,578.9 L1327.7,580.9 L1324.7,582.7 L1321.6,584.5 L1318.5,586.2 L1315.3,587.8 L1312.1,589.3 L1308.9,590.7 L1305.7,592.0 L1302.4,593.3 L1299.1,594.5 L1295.8,595.7 L1292.4,596.9 L1289.0,598.0 L1285.6,599.0 L1282.2,600.0 L1278.8,600.9 L1275.4,601.8 L1272.0,602.7 L1268.6,603.5 L1265.2,604.3 L1261.7,605.1 L1258.3,605.8 L1254.8,606.5 L1251.3,607.2 L1247.8,607.9 L1244.4,608.5 L1240.9,609.2 L1237.4,609.8 L1233.9,610.3 L1230.5,610.9 L1227.0,611.5 L1223.5,612.0 L1220.0,612.5 L1216.5,613.1 L1213.0,613.6 L1209.5,614.1 L1206.1,614.6 L1202.6,615.0 L1199.1,615.5 L1195.6,616.0 L1192.1,616.4 L1188.6,616.9 L1185.1,617.3 L1181.6,617.8 L1178.1,618.2 L1174.6,618.7 L1171.1,619.1 L1167.6,619.5 L1164.1,619.9 L1160.5,620.3 L1157.0,620.7 L1153.5,621.1 L1150.0,621.5 L1146.5,621.9 L1143.0,622.4 L1139.5,622.9 L1136.1,623.4 L1132.6,624.0 L1129.1,624.6 L1125.6,625.2 L1122.1,625.9 L1118.6,626.6 L1115.2,627.4 L1111.8,628.2 L1108.4,629.1 L1105.0,630.1 L1101.7,631.2 L1098.4,632.4 L1095.1,633.7 L1091.8,635.1 L1088.6,636.6 L1085.4,638.2 L1082.3,639.8 L1079.2,641.4 L1076.2,643.2 L1073.2,645.1 L1070.2,647.1 L1067.3,649.2 L1064.5,651.3 L1061.7,653.4 L1059.0,655.6 L1056.3,657.9 L1053.7,660.3 L1051.2,662.7 L1048.7,665.2 L1046.2,667.8 L1043.8,670.4 L1041.3,672.9 L1038.9,675.5 L1036.4,678.0 L1034.0,680.5 L1031.6,683.1 L1029.1,685.7 L1026.7,688.3 L1024.3,690.9 L1022.0,693.4 L1019.6,696.0 L1017.1,698.6 L1014.7,701.2 L1012.3,703.7 L1009.8,706.2 L1007.4,708.8 L1004.9,711.3 L1002.4,713.8 L1000.0,716.4 L997.5,718.8 L994.9,721.3 L992.4,723.8 L989.8,726.2 L987.3,728.6 L984.7,731.0 L982.1,733.5 L979.5,735.9 L976.8,738.3 L974.1,740.5 L971.4,742.7 L968.5,744.7 L965.6,746.6 L962.6,748.4 L959.5,750.1 L956.3,751.7 L953.0,753.2 L949.8,754.5 L946.5,755.7 L943.2,757.0 L939.8,758.1 L936.4,759.2 L932.9,760.0 L929.5,760.5 L926.0,760.8 L922.5,761.1 L919.0,761.3 L915.4,761.5 L911.9,761.6 L908.4,761.6 L904.9,761.4 L901.4,761.0 L897.9,760.5 L894.4,759.8 L890.9,759.1 L887.4,758.4 L883.9,757.8 L880.5,757.1 L877.0,756.4 L873.6,755.6 L870.2,754.8 L866.8,753.9 L863.3,753.1 L859.9,752.2 L856.5,751.4 L853.0,750.6 L849.6,749.9 L846.1,749.2 L842.7,748.5 L839.2,747.8 L835.7,747.1 L832.3,746.5 L828.8,745.8 L825.4,745.0 L821.9,744.3 L818.5,743.5 L815.0,742.9 L811.5,742.2 L808.0,741.7 L804.6,741.1 L801.1,740.6 L797.5,740.1 L794.0,739.8 L790.5,739.6 L787.0,739.7 L783.5,740.0 L780.0,740.4 L776.5,740.9 L773.0,741.5 L769.5,742.1 L766.1,742.8 L762.7,743.7 L759.3,744.8 L755.9,745.9 L752.6,747.1 L749.3,748.3 L746.0,749.5 L742.7,750.8 L739.4,752.2 L736.2,753.5 L732.9,754.9 L729.6,756.1 L726.3,757.4 L723.0,758.6 L719.7,759.7 L716.3,760.9 L713.0,762.0 L709.6,763.1 L706.3,764.2 L702.9,765.2 L699.5,766.3 L696.2,767.3 L692.8,768.2 L689.4,769.2 L686.0,770.1 L682.6,771.1 L679.1,772.1 L675.7,772.9 L672.3,773.6 L668.8,774.2 L665.3,774.7 L661.8,775.1 L658.3,775.5 L654.8,775.8 L651.3,776.0 L647.7,776.0 L644.2,775.9 L640.7,775.7 L637.1,775.5 L633.6,775.3 L630.1,775.0 L626.6,774.7 L623.1,774.2 L619.6,773.6 L616.1,773.0 L612.6,772.2 L611.2,772.3 L609.0,774.8 L606.8,772.3 L605.9,770.3 L602.7,769.0 L599.5,767.3 L596.4,765.5 L593.4,763.7 L590.6,761.7 L587.8,759.5 L585.0,757.3 L582.3,755.0 L579.6,752.7 L576.9,750.4 L574.2,748.1 L571.6,745.8 L568.9,743.5 L566.3,741.1 L563.7,738.8 L561.0,736.4 L558.4,734.1 L555.8,731.7 L553.2,729.3 L550.5,727.0 L548.0,724.6 L545.4,722.1 L542.8,719.7 L540.2,717.3 L537.6,714.9 L534.9,712.7 L532.1,710.6 L529.3,708.4 L526.4,706.3 L523.4,704.3 L520.3,702.7 L517.1,701.4 L513.8,700.2 L510.4,699.2 L506.9,698.4 L503.4,697.9 L499.9,697.7 L496.4,697.5 L492.9,697.4 L489.3,697.3 L485.8,697.2 L482.2,697.2 L478.7,697.3 L475.2,697.5 L471.7,697.9 L468.2,698.3 L464.7,698.8 L461.2,699.3 L457.7,699.9 L454.3,700.6 L450.9,701.4 L447.5,702.3 L444.0,703.3 L440.6,704.3 L437.2,705.3 L433.8,706.3 L430.4,707.2 L427.1,708.2 L423.7,709.2 L420.3,710.2 L416.9,711.3 L413.6,712.3 L410.2,713.3 L406.8,714.3 L403.4,715.3 L400.0,716.2 L396.6,717.2 L393.2,718.2 L389.8,719.1 L386.4,720.0 L382.9,720.7 L379.5,721.3 L376.0,721.7 L372.4,722.0 L368.9,722.3 L365.4,722.5" stroke="#fa3b3f"/>
<path d="M366.4,840.8 L366.4,836.9 L366.4,832.9 L366.4,829.0 L366.4,825.1 L366.4,821.1 L366.4,817.2 L366.4,813.3 L366.4,809.4 L366.4,805.4 L366.4,801.5 L366.5,797.6 L366.5,793.6 L366.5,789.7 L366.5,785.8 L366.5,781.9 L366.5,777.9 L366.5,774.0 L366.5,770.0 L366.6,766.1 L366.6,762.2 L366.6,758.2 L366.7,754.3 L366.7,750.3 L366.8,746.4 L366.9,742.4 L367.0,738.5 L367.1,734.6 L367.2,730.7 L367.3,726.8 L367.4,722.9 L367.6,719.0 L368.1,715.1 L368.9,711.3 L370.0,707.5 L371.0,703.7 L371.9,699.8 L372.7,696.0 L373.3,692.1 L374.0,688.2 L374.6,684.3 L375.2,680.4 L375.8,676.5 L376.5,672.6 L377.3,668.8 L378.1,665.0 L379.1,661.2 L380.2,657.4 L381.4,653.7 L382.7,650.0 L384.2,646.3 L385.7,642.6 L387.3,639.0 L388.9,635.4 L390.6,631.9 L392.4,628.5 L394.4,625.1 L396.5,621.7 L398.7,618.4 L400.9,615.1 L403.3,612.0 L405.6,608.9 L408.1,605.8 L410.7,602.8 L413.4,599.9 L416.1,597.1 L418.9,594.3 L421.8,591.7 L424.8,589.1 L427.8,586.6 L430.9,584.2 L434.1,581.9 L437.4,579.6 L440.8,577.5 L444.1,575.5 L447.5,573.7 L451.0,572.0 L454.6,570.3 L458.2,568.7 L461.8,567.2 L465.5,565.7 L469.2,564.3 L472.9,563.0 L476.7,561.7 L480.4,560.5 L484.1,559.3 L487.9,558.2 L491.7,557.1 L495.4,556.0 L499.2,555.0 L503.1,554.0 L506.9,553.0 L510.7,552.1 L514.6,551.3 L518.4,550.5 L522.3,549.8 L526.1,549.2 L530.0,548.7 L533.9,548.2 L537.8,547.7 L541.7,547.2 L545.6,546.8 L549.6,546.4 L553.5,545.9 L557.4,545.5 L561.3,544.9 L565.2,544.4 L569.0,543.8 L572.9,543.1 L576.8,542.4 L580.7,541.8 L584.5,541.1 L588.4,540.4 L592.3,539.7 L596.2,539.1 L600.0,538.5 L603.9,537.9 L605.8,536.5 L608.0,534.4 L610.2,536.5 L611.7,536.9 L615.6,536.4 L619.5,535.9 L623.4,535.4 L627.3,534.9 L631.2,534.4 L635.1,533.9 L639.0,533.4 L642.9,532.9 L646.8,532.4 L650.7,531.8 L654.6,531.3 L658.5,530.7 L662.4,530.1 L666.3,529.6 L670.2,529.1 L674.1,528.6 L678.0,528.2 L681.9,527.8 L685.8,527.4 L689.7,527.1 L693.6,526.7 L697.5,526.4 L701.4,526.0 L705.4,525.7 L709.3,525.5 L713.2,525.3 L717.1,525.1 L721.1,525.0 L725.0,524.9 L728.9,524.8 L732.8,524.8 L736.8,524.7 L740.7,524.7 L744.6,524.6 L748.6,524.6 L752.5,524.5 L756.4,524.5 L760.4,524.4 L764.3,524.3 L768.2,524.1 L772.1,524.0 L776.1,523.8 L780.0,523.5 L783.9,523.3 L787.9,523.0 L791.8,522.7 L795.7,522.4 L799.6,522.0 L803.5,521.6 L807.4,521.1 L811.3,520.5 L815.2,519.9 L819.0,519.2 L822.9,518.4 L826.7,517.6 L830.6,516.7 L834.4,515.6 L838.1,514.6 L841.9,513.4 L845.6,512.1 L849.3,510.7 L852.9,509.2 L856.5,507.6 L860.1,506.0 L863.6,504.2 L867.0,502.3 L870.4,500.3 L873.8,498.3 L877.1,496.2 L880.5,494.2 L883.9,492.2 L887.2,490.1 L890.6,488.0 L893.9,486.0 L897.2,483.8 L900.5,481.7 L903.7,479.4 L906.9,477.1 L910.1,474.8 L913.3,472.5 L916.5,470.3 L919.8,468.1 L923.1,466.1 L926.5,464.0 L929.9,462.1 L933.4,460.2 L936.9,458.4 L940.5,456.8 L944.1,455.3 L947.8,453.9 L951.5,452.6 L955.2,451.3 L959.0,450.3 L962.8,449.3 L966.6,448.5 L970.5,447.8 L974.4,447.1 L978.3,446.3 L982.1,445.6 L986.0,444.9 L989.8,444.1 L993.7,443.4 L997.5,442.6 L1001.4,441.7 L1005.2,440.7 L1009.0,439.6 L1012.8,438.5 L1016.5,437.3 L1020.2,435.9 L1023.8,434.5 L1027.3,432.8 L1030.8,431.0 L1034.3,429.1 L1037.8,427.2 L1041.2,425.3 L1044.7,423.5 L1048.1,421.5 L1051.5,419.6 L1054.9,417.6 L1058.3,415.5 L1061.5,413.3 L1064.7,411.1 L1067.9,408.8 L1071.1,406.4 L1074.2,403.9 L1077.2,401.4 L1080.1,398.8 L1082.9,396.1 L1085.6,393.2 L1088.1,390.3 L1090.6,387.2 L1092.9,384.0 L1095.3,380.9 L1097.8,377.7 L1100.3,374.7 L1102.9,371.7 L1105.5,368.8 L1108.1,365.9 L1110.8,363.0 L1113.3,360.0 L1115.9,357.0 L1118.4,354.0 L1120.8,350.9 L1123.3,347.9 L1125.8,344.8 L1128.3,341.8 L1130.8,338.7 L1133.3,335.8 L1136.0,332.8 L1138.6,329.9 L1141.3,327.0 L1143.9,324.1 L1146.7,321.2 L1149.4,318.4 L1152.2,315.6 L1155.1,313.0 L1158.0,310.4 L1161.1,308.0 L1164.2,305.5 L1167.4,303.1 L1170.8,300.9 L1174.2,299.3 L1177.8,297.9 L1181.6,296.6 L1185.5,295.5 L1189.4,294.7 L1193.2,294.4 L1197.1,294.6 L1201.1,295.1 L1205.0,295.9 L1208.8,296.9 L1212.6,297.9 L1216.2,299.2 L1219.7,300.9 L1223.1,302.9 L1226.5,305.1 L1229.8,307.3 L1233.1,309.5 L1236.3,311.8 L1239.4,314.1 L1242.5,316.6 L1245.5,319.1 L1248.5,321.6 L1251.5,324.2 L1254.5,326.8 L1257.5,329.3 L1260.5,331.9 L1263.4,334.5 L1266.3,337.2 L1269.2,339.9 L1272.1,342.5 L1275.0,345.2 L1277.9,347.8 L1280.9,350.3 L1283.9,352.9 L1286.9,355.4 L1289.9,357.9 L1293.0,360.4 L1296.1,362.8 L1299.2,365.2 L1302.3,367.6 L1305.5,369.9 L1308.7,372.2 L1311.9,374.5 L1315.2,376.8 L1318.4,379.0 L1321.8,381.1 L1325.2,383.0 L1328.6,384.8 L1332.1,386.5 L1335.8,388.1 L1339.4,389.6 L1343.2,391.0 L1346.9,392.2 L1350.7,393.2 L1354.5,394.0 L1358.3,394.7 L1362.2,395.4 L1366.1,396.0 L1370.0,396.5 L1374.0,396.8 L1378.1,397.1 L1383.3,397.3 L1387.2,397.4 L1388.0,397.8 L1388.0,399.0 L1388.0,401.1 L1388.0,404.0 L1388.0,407.5 L1388.0,411.6 L1388.0,416.0 L1388.0,420.9 L1388.0,425.9 L1388.0,431.0 L1388.0,436.1 L1388.0,441.1 L1388.0,445.9 L1388.0,450.3 L1388.0,454.3 L1387.7,458.2 L1387.2,462.0 L1386.5,465.9 L1385.7,469.8 L1384.8,473.7 L1384.1,477.5 L1383.4,481.4 L1382.7,485.3 L1382.1,489.2 L1381.5,493.1 L1380.9,497.0 L1380.3,500.8 L1379.6,504.7 L1378.8,508.5 L1377.9,512.4 L1377.0,516.2 L1375.9,520.0 L1374.9,523.8 L1373.7,527.6 L1372.5,531.3 L1371.1,535.0 L1369.8,538.6 L1368.2,542.3 L1366.6,545.9 L1364.8,549.5 L1363.0,553.0 L1361.0,556.3 L1359.0,559.6 L1356.7,562.8 L1354.3,565.9 L1351.8,569.0 L1349.1,571.9 L1346.3,574.7 L1343.4,577.4 L1340.5,580.0 L1337.5,582.5 L1334.4,585.0 L1331.2,587.4 L1327.9,589.6 L1324.5,591.7 L1321.1,593.5 L1317.6,595.1 L1314.1,596.6 L1310.4,598.0 L1306.7,599.3 L1303.0,600.6 L1299.2,601.8 L1295.3,602.9 L1291.5,604.0 L1287.7,605.1 L1283.9,606.2 L1280.2,607.2 L1276.4,608.2 L1272.6,609.2 L1268.7,610.1 L1264.9,611.1 L1261.1,612.0 L1257.3,613.0 L1253.5,614.0 L1249.7,615.0 L1245.9,616.0 L1242.0,617.0 L1238.2,618.1 L1234.4,619.1 L1230.6,620.2 L1226.8,621.4 L1223.2,622.7 L1219.6,624.2 L1216.1,625.8 L1212.7,627.7 L1209.4,629.8 L1206.1,632.1 L1202.8,634.4 L1199.7,636.8 L1196.6,639.1 L1193.5,641.6 L1190.5,644.1 L1187.5,646.7 L1184.6,649.3 L1181.7,652.1 L1178.9,654.9 L1176.2,657.7 L1173.5,660.6 L1170.9,663.5 L1168.4,666.4 L1165.9,669.5 L1163.5,672.6 L1161.1,675.8 L1158.8,679.0 L1156.6,682.2 L1154.4,685.5 L1152.2,688.7 L1150.0,692.0 L1148.0,695.4 L1145.9,698.7 L1143.9,702.1 L1142.0,705.5 L1140.0,708.9 L1138.0,712.3 L1136.0,715.7 L1134.0,719.1 L1132.0,722.5 L1129.9,725.8 L1127.9,729.2 L1125.8,732.5 L1123.7,735.9 L1121.7,739.2 L1119.6,742.5 L1117.5,745.9 L1115.4,749.2 L1113.3,752.5 L1111.2,755.8 L1109.1,759.2 L1107.0,762.5 L1104.9,765.8 L1102.8,769.1 L1100.7,772.4 L1098.5,775.7 L1096.4,779.0 L1094.2,782.3 L1092.1,785.6 L1090.0,788.9 L1087.9,792.2 L1085.7,795.5 L1083.6,798.8 L1081.4,802.1 L1079.1,805.3 L1076.8,808.5 L1074.5,811.6 L1072.1,814.7 L1069.6,817.8 L1067.1,820.8 L1064.5,823.8 L1061.9,826.8 L1059.2,829.6 L1056.4,832.4 L1053.6,835.2 L1050.7,838.0 L1047.8,840.8 L1044.7,843.4 L1041.6,845.7 L1038.3,847.6 L1034.9,849.3 L1031.3,850.9 L1027.6,852.5 L1023.7,853.8 L1019.9,855.0 L1016.0,855.7 L1012.2,856.0 L1008.4,855.7 L1004.6,854.7 L1000.8,853.3 L997.1,851.6 L993.5,849.9 L990.1,848.2 L986.8,846.1 L983.6,843.8 L980.5,841.3 L977.4,838.6 L974.5,836.0 L971.6,833.4 L968.9,830.6 L966.2,827.7 L963.7,824.8 L961.1,821.8 L958.6,818.7 L956.1,815.7 L953.5,812.6 L950.9,809.6 L948.3,806.7 L945.6,803.9 L942.9,801.0 L940.2,798.1 L937.5,795.2 L934.8,792.4 L932.0,789.6 L929.2,786.8 L926.3,784.2 L923.4,781.6 L920.4,779.1 L917.3,776.7 L914.2,774.3 L911.0,771.9 L907.7,769.7 L904.4,767.5 L901.1,765.4 L897.7,763.5 L894.2,761.7 L890.7,760.0 L887.1,758.4 L883.4,756.9 L879.8,755.4 L876.1,754.0 L872.4,752.6 L868.7,751.2 L865.0,750.0 L861.2,748.9 L857.5,747.8 L853.7,746.8 L849.8,745.9 L846.0,745.0 L842.1,744.3 L838.2,743.8 L834.4,743.2 L830.4,742.8 L826.5,742.4 L822.6,742.1 L818.7,742.0 L814.8,741.8 L810.8,741.7 L806.9,741.7 L803.0,741.6 L799.0,741.6 L795.1,741.7 L791.2,742.0 L787.2,742.3 L783.3,742.7 L779.4,743.1 L775.6,743.6 L771.7,744.3 L767.9,745.2 L764.0,746.1 L760.2,747.0 L756.4,747.9 L752.5,748.9 L748.7,750.0 L744.9,751.1 L741.1,752.1 L737.3,752.8 L733.4,753.2 L729.5,753.6 L725.5,753.8 L721.6,754.0 L717.8,753.8 L714.1,752.5 L710.5,750.6 L707.0,748.6 L703.6,746.6 L700.4,744.4 L697.2,742.1 L694.1,739.6 L691.1,737.0 L688.2,734.4 L685.5,731.6 L682.8,728.7 L680.2,725.8 L677.5,722.8 L674.9,719.9 L672.2,717.1 L669.3,714.4 L666.4,711.7 L663.5,709.0 L660.4,706.4 L657.4,703.9 L654.2,701.6 L650.9,699.5 L647.6,697.7 L644.0,695.9 L640.4,694.2 L636.6,692.7 L632.9,691.6 L629.1,690.9 L625.3,690.3 L621.3,689.8 L617.4,689.3 L613.4,689.1 L611.2,689.6 L609.0,691.0 L606.8,689.6 L605.6,689.1 L601.7,689.4 L597.8,689.8 L593.8,690.3 L589.9,690.9 L586.0,691.5 L582.2,692.2 L578.3,692.8 L574.5,693.6 L570.6,694.5 L566.8,695.5 L563.0,696.6 L559.3,697.7 L555.5,698.9 L551.8,700.1 L548.0,701.3 L544.3,702.6 L540.6,704.0 L537.0,705.4 L533.3,706.9 L529.7,708.4 L526.1,710.0 L522.5,711.6 L519.0,713.2 L515.5,715.0 L512.0,716.9 L508.6,718.8 L505.1,720.7 L501.7,722.7 L498.3,724.7 L494.9,726.7 L491.6,728.7 L488.2,730.7 L484.8,732.7 L481.4,734.7 L478.0,736.8 L474.7,738.8 L471.4,741.0 L468.1,743.1 L464.8,745.3 L461.6,747.5 L458.5,749.8 L455.3,752.2 L452.2,754.6 L449.2,757.1 L446.1,759.6 L443.1,762.1 L440.1,764.7 L437.1,767.2 L434.2,769.8 L431.2,772.4 L428.3,775.0 L425.3,777.6 L422.4,780.3 L419.5,783.0 L416.7,785.6 L413.8,788.4 L411.0,791.1 L408.2,793.8 L405.4,796.6 L402.6,799.4 L399.9,802.2 L397.2,805.1 L394.6,808.0 L392.0,811.0 L389.4,813.9 L386.8,816.9 L384.3,819.9 L381.7,822.9 L379.1,825.8 L376.6,828.8 L374.0,831.8 L371.5,834.8 L368.9,837.8 L366.4,840.8" stroke="#00d28c"/>
</g>
<g stroke="#000" fill="none" stroke-linecap="butt">
<path d="M220.5,34.0 V1057.6" stroke-width="4.8"/>
<path d="M218.1,1055.2 H1489.4" stroke-width="4.8"/>
<path d="M200.0,962.5 H220.5 M200.0,777.2 H220.5 M200.0,591.9 H220.5 M200.0,406.6 H220.5 M200.0,221.3 H220.5 M200.0,36.0 H220.5 M210.0,1055.2 H220.5 M210.0,869.9 H220.5 M210.0,684.5 H220.5 M210.0,499.2 H220.5 M210.0,313.9 H220.5 M210.0,128.6 H220.5 M220.5,1055.2 V1075.7 M415.3,1055.2 V1075.7 M610.2,1055.2 V1075.7 M805.0,1055.2 V1075.7 M999.9,1055.2 V1075.7 M1194.7,1055.2 V1075.7 M1389.5,1055.2 V1075.7 M317.9,1055.2 V1065.7 M512.8,1055.2 V1065.7 M707.6,1055.2 V1065.7 M902.4,1055.2 V1065.7 M1097.3,1055.2 V1065.7 M1292.1,1055.2 V1065.7 M1487.0,1055.2 V1065.7" stroke-width="4.6"/>
</g>
<g font-family="'Liberation Sans', Arial, Helvetica, sans-serif" fill="#000">
<text transform="translate(188.3,976.1) scale(1,1.065)" font-size="43.5" text-anchor="end">−0.02</text>
<text transform="translate(188.3,790.8) scale(1,1.065)" font-size="43.5" text-anchor="end">−0.01</text>
<text transform="translate(188.3,605.5) scale(1,1.065)" font-size="43.5" text-anchor="end">0.00</text>
<text transform="translate(188.3,420.2) scale(1,1.065)" font-size="43.5" text-anchor="end">0.01</text>
<text transform="translate(188.3,234.9) scale(1,1.065)" font-size="43.5" text-anchor="end">0.02</text>
<text transform="translate(188.3,49.6) scale(1,1.065)" font-size="43.5" text-anchor="end">0.03</text>
<text transform="translate(220.5,1123.3) scale(1,1.065)" font-size="43.5" text-anchor="middle">−0.4</text>
<text transform="translate(415.3,1123.3) scale(1,1.065)" font-size="43.5" text-anchor="middle">−0.2</text>
<text transform="translate(610.2,1123.3) scale(1,1.065)" font-size="43.5" text-anchor="middle">0.0</text>
<text transform="translate(805.0,1123.3) scale(1,1.065)" font-size="43.5" text-anchor="middle">0.2</text>
<text transform="translate(999.9,1123.3) scale(1,1.065)" font-size="43.5" text-anchor="middle">0.4</text>
<text transform="translate(1194.7,1123.3) scale(1,1.065)" font-size="43.5" text-anchor="middle">0.6</text>
<text transform="translate(1389.5,1123.3) scale(1,1.065)" font-size="43.5" text-anchor="middle">0.8</text>
<text transform="translate(853.0,1203.5) scale(1,1)" font-size="53.3" text-anchor="middle">Potential / V (vs Ag|AgCl, NaCl<tspan font-size="36" dy="14">sat.</tspan><tspan dy="-14">)</tspan></text>
<text font-size="53" text-anchor="middle" transform="translate(56,546.5) rotate(-90) scale(1,1.05)">Current / mA</text>
<text transform="translate(283.5,67.0) scale(1,1)" font-size="34" text-anchor="start">Concentration HClO<tspan font-size="22" dy="7.5">4</tspan><tspan dy="-7.5">:LiClO</tspan><tspan font-size="22" dy="7.5">4</tspan><tspan dy="-7.5">, mM</tspan></text>
<path d="M283.7,103.6 H359.3" stroke="#fde725" stroke-width="5.5" stroke-linecap="round"/>
<text transform="translate(369.0,115.4) scale(1,1.017)" font-size="33.8" text-anchor="start">100:0</text>
<path d="M283.7,145.1 H359.3" stroke="#a0da39" stroke-width="5.5" stroke-linecap="round"/>
<text transform="translate(369.0,156.9) scale(1,1.017)" font-size="33.8" text-anchor="start">91:91</text>
<path d="M283.7,186.5 H359.3" stroke="#4ac16d" stroke-width="5.5" stroke-linecap="round"/>
<text transform="translate(369.0,198.3) scale(1,1.017)" font-size="33.8" text-anchor="start">83:167</text>
<path d="M283.7,228.0 H359.3" stroke="#1fa187" stroke-width="5.5" stroke-linecap="round"/>
<text transform="translate(369.0,239.8) scale(1,1.017)" font-size="33.8" text-anchor="start">77:231</text>
<path d="M283.7,269.4 H359.3" stroke="#277f8e" stroke-width="5.5" stroke-linecap="round"/>
<text transform="translate(369.0,281.2) scale(1,1.017)" font-size="33.8" text-anchor="start">71:286</text>
<path d="M283.7,310.9 H359.3" stroke="#365c8d" stroke-width="5.5" stroke-linecap="round"/>
<text transform="translate(369.0,322.7) scale(1,1.017)" font-size="33.8" text-anchor="start">67:333</text>
<path d="M283.7,352.4 H359.3" stroke="#46327e" stroke-width="5.5" stroke-linecap="round"/>
<text transform="translate(369.0,364.2) scale(1,1.017)" font-size="33.8" text-anchor="start">61:384</text>
<path d="M283.7,393.8 H359.3" stroke="#440154" stroke-width="5.5" stroke-linecap="round"/>
<text transform="translate(369.0,405.6) scale(1,1.017)" font-size="33.8" text-anchor="start">57:428</text>
<path d="M283.7,436.0 H359.3" stroke="#ff8000" stroke-width="5.5" stroke-linecap="round"/>
<text transform="translate(369.0,447.8) scale(1,1.017)" font-size="33.8" text-anchor="start">57:428</text>
<text transform="translate(481.5,447.8) scale(1,1)" font-size="34" text-anchor="start">after washing with H<tspan font-size="22" dy="7.5">2</tspan><tspan dy="-7.5">O</tspan></text>
<path d="M283.7,485.0 H359.3" stroke="#fa3b3f" stroke-width="5.5" stroke-linecap="round"/>
<text transform="translate(369.0,496.8) scale(1,1.017)" font-size="33.8" text-anchor="start">0:1000</text>
<path d="M283.7,525.8 H359.3" stroke="#00d28c" stroke-width="5.5" stroke-linecap="round"/>
<text transform="translate(369.0,537.6) scale(1,1.017)" font-size="33.8" text-anchor="start">100:0</text>
<text transform="translate(1190.0,160.0) scale(1,1.085)" font-size="52" text-anchor="middle">II</text>
<text transform="translate(680.0,402.0) scale(1,1.085)" font-size="52" text-anchor="middle">III</text>
<text transform="translate(928.5,389.0) scale(1,1.085)" font-size="52" text-anchor="middle">I</text>
<text transform="translate(752.0,708.0) scale(1,1.085)" font-size="52" text-anchor="middle">I'</text>
<text transform="translate(620.0,845.0) scale(1,1.085)" font-size="52" text-anchor="middle">III'</text>
<text transform="translate(966.0,1020.0) scale(1,1.085)" font-size="52" text-anchor="middle">II'</text>
</g>
<g font-family="'Liberation Serif', 'Times New Roman', serif" font-size="81" fill="#000">
<text transform="translate(709.8,1347) scale(0.87,1)">(</text>
<text x="734.2" y="1347" font-weight="bold">c</text>
<text transform="translate(769.9,1347) scale(0.87,1)">)</text>
</g>
</svg>
</body></html>
